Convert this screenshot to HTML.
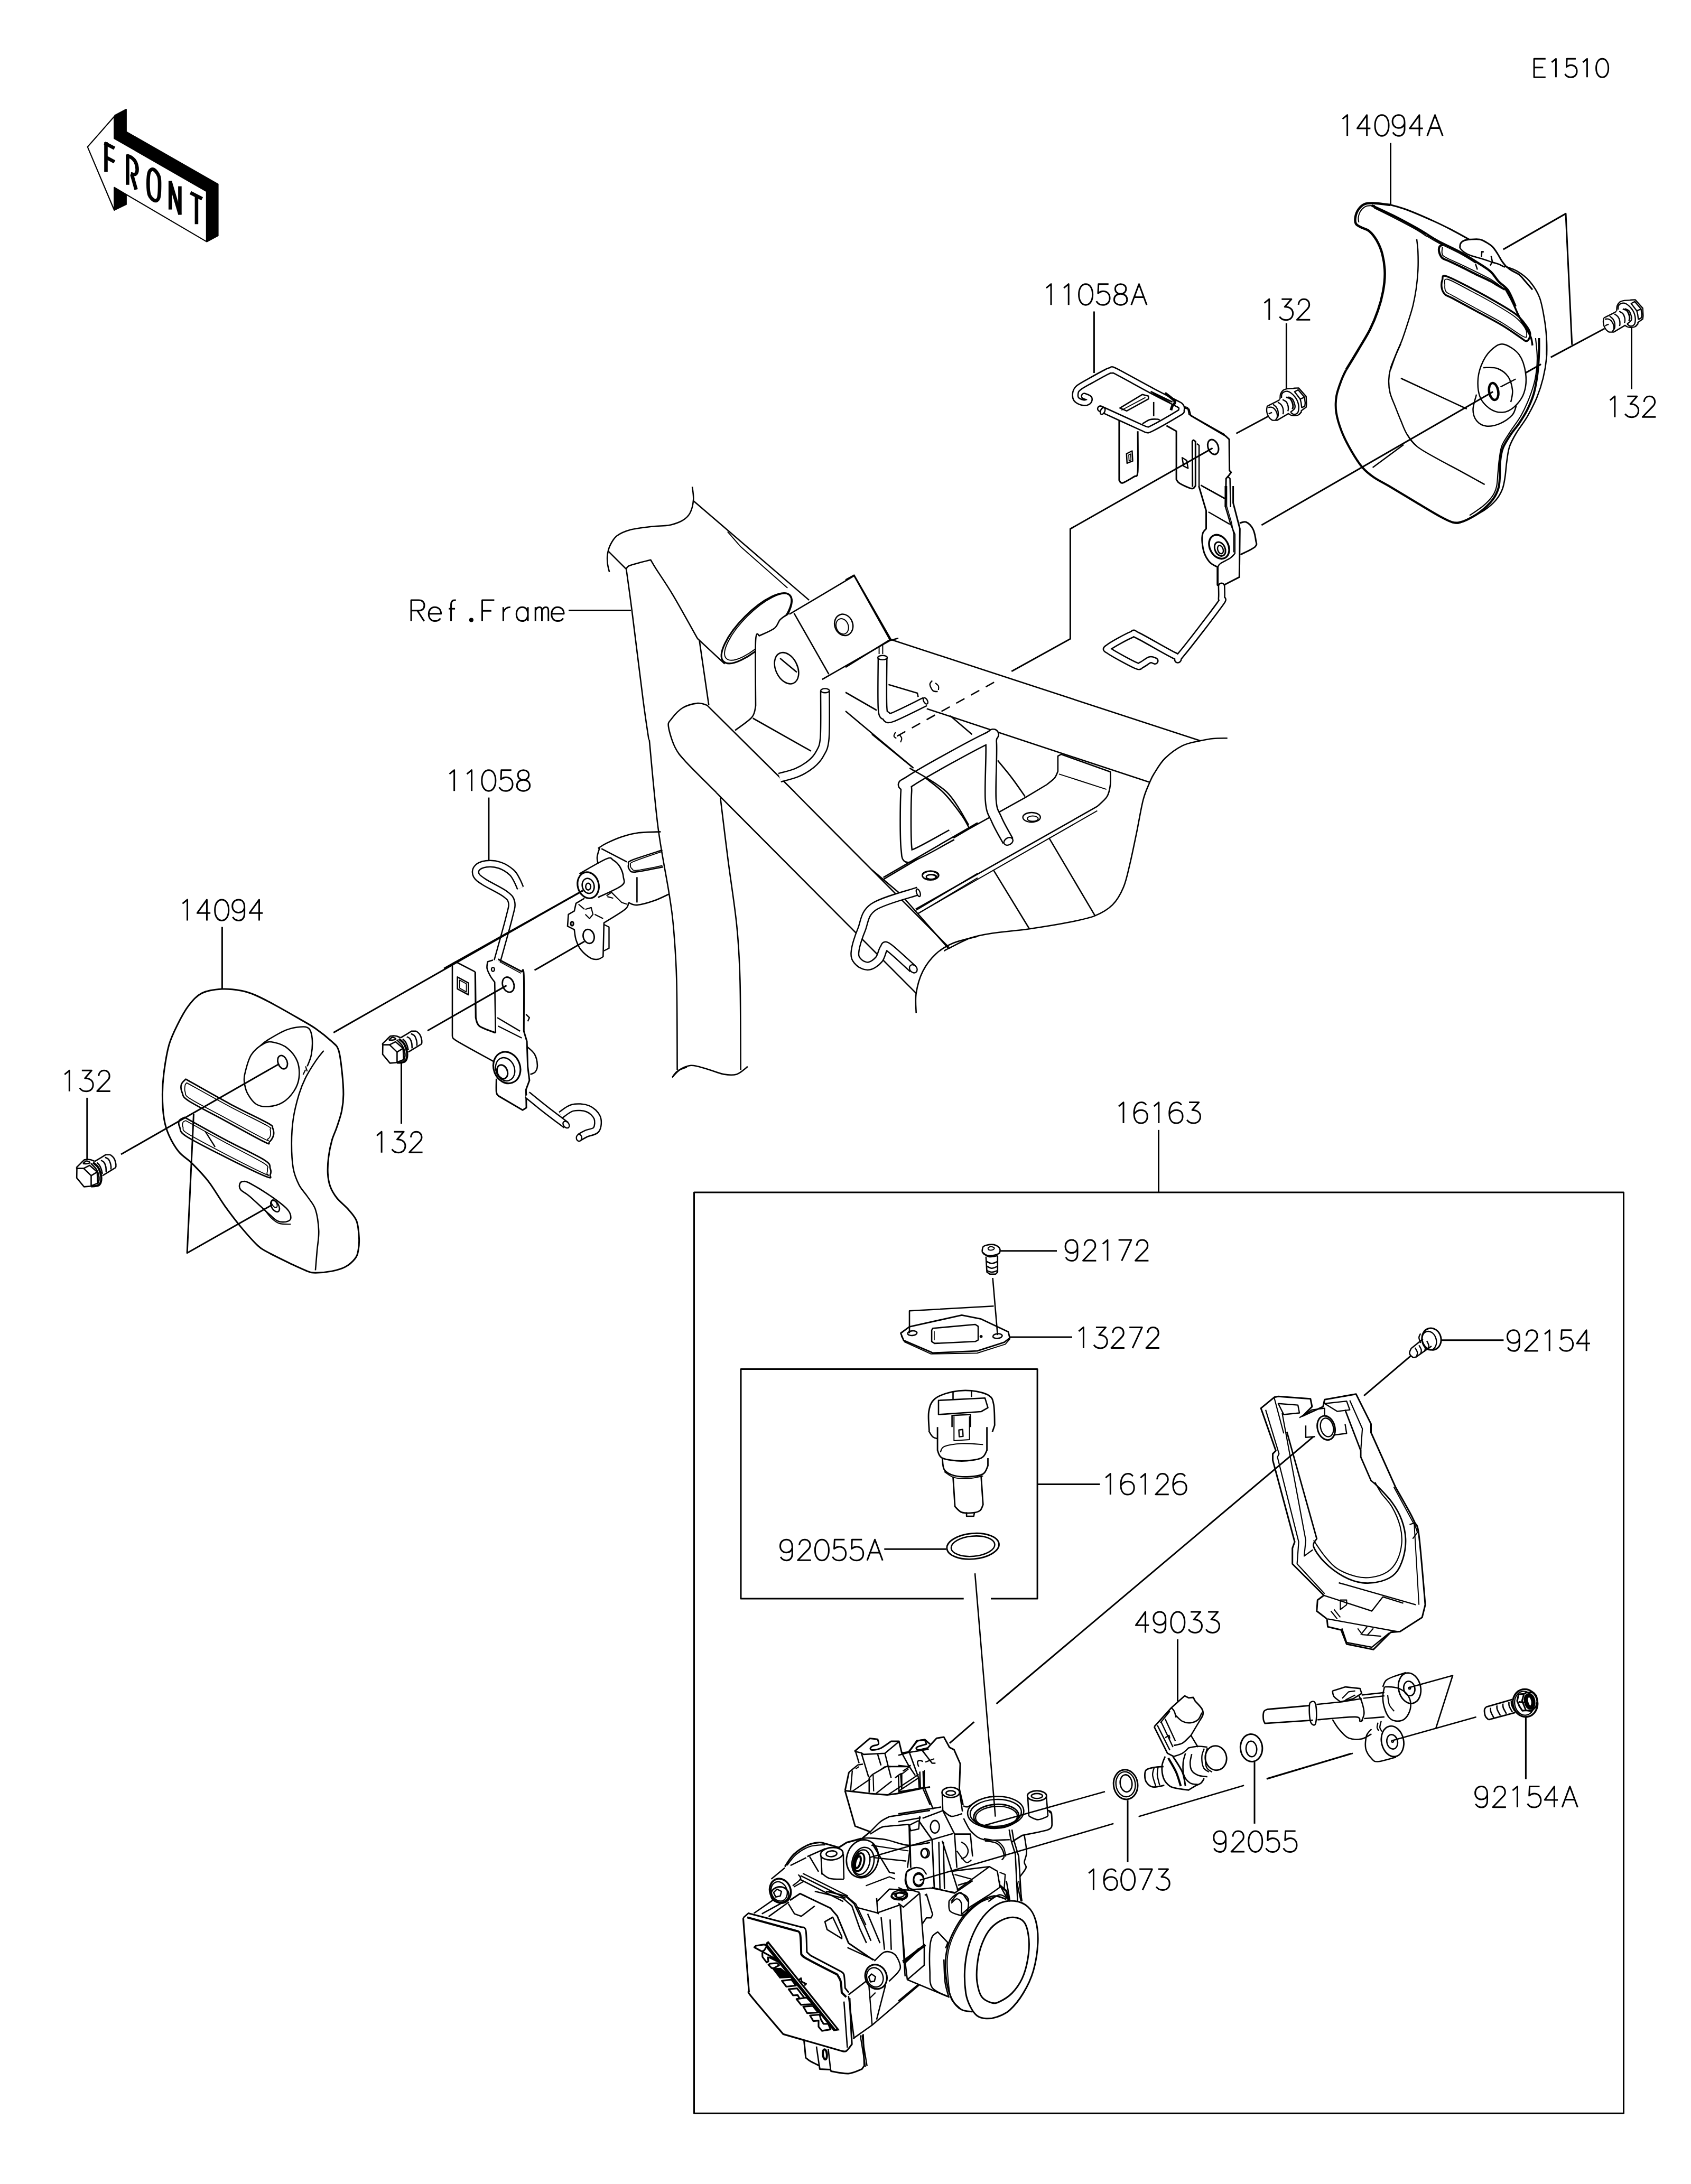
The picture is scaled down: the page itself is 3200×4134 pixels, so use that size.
<!DOCTYPE html>
<html><head><meta charset="utf-8"><title>Parts diagram</title><style>html,body{margin:0;padding:0;background:#fff;}body{width:3200px;height:4134px;overflow:hidden;font-family:"Liberation Sans",sans-serif;}svg{display:block;}</style></head>
<body>
<svg width="3200" height="4134" viewBox="0 0 3200 4134" stroke-linecap="butt" stroke-linejoin="round">
<rect width="3200" height="4134" fill="#fff"/>
<g fill="none" stroke="#000" stroke-width="8.6" stroke-linejoin="round"><path transform="translate(2902.4 111.3) scale(0.3500)" d="M64 0L2 0L2 100L64 100M2 47L51 47"/><path transform="translate(2931.8 111.3) scale(0.3500)" d="M13 19L36 0L36 100"/><path transform="translate(2961.3 111.3) scale(0.3500)" d="M59 0L11 0L9 44C16 38 24 34 33 34C52 34 65 47 65 67C65 87 52 100 33 100C18 100 7 94 1 82"/><path transform="translate(2990.8 111.3) scale(0.3500)" d="M13 19L36 0L36 100"/><path transform="translate(3020.2 111.3) scale(0.3500)" d="M34 0C53 0 67 19 67 50C67 81 53 100 34 100C15 100 1 81 1 50C1 19 15 0 34 0Z"/></g>
<g fill="none" stroke="#000" stroke-width="7.6" stroke-linejoin="round"><path transform="translate(2535.4 217.7) scale(0.3950)" d="M13 19L36 0L36 100"/><path transform="translate(2568.5 217.7) scale(0.3950)" d="M46 100L46 0L0 64L63 64"/><path transform="translate(2601.6 217.7) scale(0.3950)" d="M34 0C53 0 67 19 67 50C67 81 53 100 34 100C15 100 1 81 1 50C1 19 15 0 34 0Z"/><path transform="translate(2634.7 217.7) scale(0.3950)" d="M59 40C55 55 45 62 31 62C13 62 1 49 1 31C1 13 13 0 31 0C48 0 59 12 59 36L59 68C59 88 48 100 32 100C19 100 9 94 3 83"/><path transform="translate(2667.8 217.7) scale(0.3950)" d="M46 100L46 0L0 64L63 64"/><path transform="translate(2700.9 217.7) scale(0.3950)" d="M0 100L37 0L74 100M13 63L61 63"/></g>
<g fill="none" stroke="#000" stroke-width="7.6" stroke-linejoin="round"><path transform="translate(1974.8 537.7) scale(0.3950)" d="M13 19L36 0L36 100"/><path transform="translate(2008 537.7) scale(0.3950)" d="M13 19L36 0L36 100"/><path transform="translate(2041.2 537.7) scale(0.3950)" d="M34 0C53 0 67 19 67 50C67 81 53 100 34 100C15 100 1 81 1 50C1 19 15 0 34 0Z"/><path transform="translate(2074.4 537.7) scale(0.3950)" d="M59 0L11 0L9 44C16 38 24 34 33 34C52 34 65 47 65 67C65 87 52 100 33 100C18 100 7 94 1 82"/><path transform="translate(2107.6 537.7) scale(0.3950)" d="M33 47C17 47 7 37 7 23C7 9 18 0 33 0C48 0 59 9 59 23C59 37 49 47 33 47C15 47 2 58 2 74C2 90 15 100 33 100C51 100 64 90 64 74C64 58 51 47 33 47Z"/><path transform="translate(2140.8 537.7) scale(0.3950)" d="M0 100L37 0L74 100M13 63L61 63"/></g>
<g fill="none" stroke="#000" stroke-width="7.6" stroke-linejoin="round"><path transform="translate(2387.6 566.2) scale(0.3950)" d="M13 19L36 0L36 100"/><path transform="translate(2420.6 566.2) scale(0.3950)" d="M12 0L59 0L27 37C50 37 66 48 66 68C66 88 52 100 33 100C20 100 9 95 2 84"/><path transform="translate(2453.6 566.2) scale(0.3950)" d="M9 27C10 11 20 0 35 0C51 0 61 11 61 27C61 36 58 41 53 46L2 99L65 99"/></g>
<g fill="none" stroke="#000" stroke-width="7.6" stroke-linejoin="round"><path transform="translate(3041.6 750.2) scale(0.3950)" d="M13 19L36 0L36 100"/><path transform="translate(3074.6 750.2) scale(0.3950)" d="M12 0L59 0L27 37C50 37 66 48 66 68C66 88 52 100 33 100C20 100 9 95 2 84"/><path transform="translate(3107.6 750.2) scale(0.3950)" d="M9 27C10 11 20 0 35 0C51 0 61 11 61 27C61 36 58 41 53 46L2 99L65 99"/></g>
<circle cx="891.9" cy="1173.6" r="4.1" fill="#000"/>
<g fill="none" stroke="#000" stroke-width="7.6" stroke-linejoin="round"><path transform="translate(777.3 1136.1) scale(0.3950)" d="M2 100L2 0L38 0C56 0 65 10 65 25C65 40 56 50 38 50L2 50M32 50L64 100"/><path transform="translate(810.5 1136.1) scale(0.3950)" d="M2 65L61 65C61 45 49 33 31 33C13 33 2 48 2 67C2 87 14 100 31 100C44 100 53 95 58 87"/><path transform="translate(843.7 1136.1) scale(0.3950)" d="M48 0C42 0 36 0 32 3C27 7 25 12 25 20L25 100M14 41L44 41"/><path transform="translate(910.1 1136.1) scale(0.3950)" d="M64 0L6 0L6 100M6 51L50 51"/><path transform="translate(943.3 1136.1) scale(0.3950)" d="M23 33L23 100M23 58C28 42 40 33 57 33"/><path transform="translate(976.5 1136.1) scale(0.3950)" d="M57 33L57 100M57 66C57 46 46 33 30 33C13 33 2 47 2 67C2 87 13 100 30 100C46 100 57 87 57 66"/><path transform="translate(1009.7 1136.1) scale(0.3950)" d="M9 33L9 100M9 50C13 39 20 33 28 33C36 33 40 40 40 50L40 100M40 50C44 39 51 33 59 33C67 33 71 40 71 50L71 100"/><path transform="translate(1042.9 1136.1) scale(0.3950)" d="M2 65L61 65C61 45 49 33 31 33C13 33 2 48 2 67C2 87 14 100 31 100C44 100 53 95 58 87"/></g>
<g fill="none" stroke="#000" stroke-width="7.6" stroke-linejoin="round"><path transform="translate(845.4 1457.7) scale(0.3950)" d="M13 19L36 0L36 100"/><path transform="translate(878.4 1457.7) scale(0.3950)" d="M13 19L36 0L36 100"/><path transform="translate(911.4 1457.7) scale(0.3950)" d="M34 0C53 0 67 19 67 50C67 81 53 100 34 100C15 100 1 81 1 50C1 19 15 0 34 0Z"/><path transform="translate(944.4 1457.7) scale(0.3950)" d="M59 0L11 0L9 44C16 38 24 34 33 34C52 34 65 47 65 67C65 87 52 100 33 100C18 100 7 94 1 82"/><path transform="translate(977.4 1457.7) scale(0.3950)" d="M33 47C17 47 7 37 7 23C7 9 18 0 33 0C48 0 59 9 59 23C59 37 49 47 33 47C15 47 2 58 2 74C2 90 15 100 33 100C51 100 64 90 64 74C64 58 51 47 33 47Z"/></g>
<g fill="none" stroke="#000" stroke-width="7.6" stroke-linejoin="round"><path transform="translate(340.3 1702.9) scale(0.3950)" d="M13 19L36 0L36 100"/><path transform="translate(373.3 1702.9) scale(0.3950)" d="M46 100L46 0L0 64L63 64"/><path transform="translate(406.3 1702.9) scale(0.3950)" d="M34 0C53 0 67 19 67 50C67 81 53 100 34 100C15 100 1 81 1 50C1 19 15 0 34 0Z"/><path transform="translate(439.3 1702.9) scale(0.3950)" d="M59 40C55 55 45 62 31 62C13 62 1 49 1 31C1 13 13 0 31 0C48 0 59 12 59 36L59 68C59 88 48 100 32 100C19 100 9 94 3 83"/><path transform="translate(472.3 1702.9) scale(0.3950)" d="M46 100L46 0L0 64L63 64"/></g>
<g fill="none" stroke="#000" stroke-width="7.6" stroke-linejoin="round"><path transform="translate(117.1 2026.3) scale(0.3950)" d="M13 19L36 0L36 100"/><path transform="translate(150.1 2026.3) scale(0.3950)" d="M12 0L59 0L27 37C50 37 66 48 66 68C66 88 52 100 33 100C20 100 9 95 2 84"/><path transform="translate(183.1 2026.3) scale(0.3950)" d="M9 27C10 11 20 0 35 0C51 0 61 11 61 27C61 36 58 41 53 46L2 99L65 99"/></g>
<g fill="none" stroke="#000" stroke-width="7.6" stroke-linejoin="round"><path transform="translate(707.9 2142.2) scale(0.3950)" d="M13 19L36 0L36 100"/><path transform="translate(740.9 2142.2) scale(0.3950)" d="M12 0L59 0L27 37C50 37 66 48 66 68C66 88 52 100 33 100C20 100 9 95 2 84"/><path transform="translate(773.9 2142.2) scale(0.3950)" d="M9 27C10 11 20 0 35 0C51 0 61 11 61 27C61 36 58 41 53 46L2 99L65 99"/></g>
<g fill="none" stroke="#000" stroke-width="7.6" stroke-linejoin="round"><path transform="translate(2111.8 2086.6) scale(0.3950)" d="M13 19L36 0L36 100"/><path transform="translate(2145.2 2086.6) scale(0.3950)" d="M60 12C54 4 46 0 37 0C15 0 2 20 2 53C2 84 15 100 35 100C54 100 66 87 66 67C66 48 54 37 36 37C21 37 9 45 2 58"/><path transform="translate(2178.6 2086.6) scale(0.3950)" d="M13 19L36 0L36 100"/><path transform="translate(2212 2086.6) scale(0.3950)" d="M60 12C54 4 46 0 37 0C15 0 2 20 2 53C2 84 15 100 35 100C54 100 66 87 66 67C66 48 54 37 36 37C21 37 9 45 2 58"/><path transform="translate(2245.4 2086.6) scale(0.3950)" d="M12 0L59 0L27 37C50 37 66 48 66 68C66 88 52 100 33 100C20 100 9 95 2 84"/></g>
<g fill="none" stroke="#000" stroke-width="7.6" stroke-linejoin="round"><path transform="translate(2015.7 2347.1) scale(0.3950)" d="M59 40C55 55 45 62 31 62C13 62 1 49 1 31C1 13 13 0 31 0C48 0 59 12 59 36L59 68C59 88 48 100 32 100C19 100 9 94 3 83"/><path transform="translate(2048.7 2347.1) scale(0.3950)" d="M9 27C10 11 20 0 35 0C51 0 61 11 61 27C61 36 58 41 53 46L2 99L65 99"/><path transform="translate(2081.7 2347.1) scale(0.3950)" d="M13 19L36 0L36 100"/><path transform="translate(2114.7 2347.1) scale(0.3950)" d="M5 0L66 0L20 100"/><path transform="translate(2147.7 2347.1) scale(0.3950)" d="M9 27C10 11 20 0 35 0C51 0 61 11 61 27C61 36 58 41 53 46L2 99L65 99"/></g>
<g fill="none" stroke="#000" stroke-width="7.6" stroke-linejoin="round"><path transform="translate(2036.2 2512.4) scale(0.3950)" d="M13 19L36 0L36 100"/><path transform="translate(2069.2 2512.4) scale(0.3950)" d="M12 0L59 0L27 37C50 37 66 48 66 68C66 88 52 100 33 100C20 100 9 95 2 84"/><path transform="translate(2102.2 2512.4) scale(0.3950)" d="M9 27C10 11 20 0 35 0C51 0 61 11 61 27C61 36 58 41 53 46L2 99L65 99"/><path transform="translate(2135.2 2512.4) scale(0.3950)" d="M5 0L66 0L20 100"/><path transform="translate(2168.2 2512.4) scale(0.3950)" d="M9 27C10 11 20 0 35 0C51 0 61 11 61 27C61 36 58 41 53 46L2 99L65 99"/></g>
<g fill="none" stroke="#000" stroke-width="7.6" stroke-linejoin="round"><path transform="translate(2852 2517.8) scale(0.3950)" d="M59 40C55 55 45 62 31 62C13 62 1 49 1 31C1 13 13 0 31 0C48 0 59 12 59 36L59 68C59 88 48 100 32 100C19 100 9 94 3 83"/><path transform="translate(2885 2517.8) scale(0.3950)" d="M9 27C10 11 20 0 35 0C51 0 61 11 61 27C61 36 58 41 53 46L2 99L65 99"/><path transform="translate(2918 2517.8) scale(0.3950)" d="M13 19L36 0L36 100"/><path transform="translate(2951 2517.8) scale(0.3950)" d="M59 0L11 0L9 44C16 38 24 34 33 34C52 34 65 47 65 67C65 87 52 100 33 100C18 100 7 94 1 82"/><path transform="translate(2984 2517.8) scale(0.3950)" d="M46 100L46 0L0 64L63 64"/></g>
<g fill="none" stroke="#000" stroke-width="7.6" stroke-linejoin="round"><path transform="translate(2087.1 2789.6) scale(0.3950)" d="M13 19L36 0L36 100"/><path transform="translate(2120.1 2789.6) scale(0.3950)" d="M60 12C54 4 46 0 37 0C15 0 2 20 2 53C2 84 15 100 35 100C54 100 66 87 66 67C66 48 54 37 36 37C21 37 9 45 2 58"/><path transform="translate(2153.1 2789.6) scale(0.3950)" d="M13 19L36 0L36 100"/><path transform="translate(2186.1 2789.6) scale(0.3950)" d="M9 27C10 11 20 0 35 0C51 0 61 11 61 27C61 36 58 41 53 46L2 99L65 99"/><path transform="translate(2219.1 2789.6) scale(0.3950)" d="M60 12C54 4 46 0 37 0C15 0 2 20 2 53C2 84 15 100 35 100C54 100 66 87 66 67C66 48 54 37 36 37C21 37 9 45 2 58"/></g>
<g fill="none" stroke="#000" stroke-width="7.6" stroke-linejoin="round"><path transform="translate(1476 2914.2) scale(0.3950)" d="M59 40C55 55 45 62 31 62C13 62 1 49 1 31C1 13 13 0 31 0C48 0 59 12 59 36L59 68C59 88 48 100 32 100C19 100 9 94 3 83"/><path transform="translate(1509 2914.2) scale(0.3950)" d="M9 27C10 11 20 0 35 0C51 0 61 11 61 27C61 36 58 41 53 46L2 99L65 99"/><path transform="translate(1542 2914.2) scale(0.3950)" d="M34 0C53 0 67 19 67 50C67 81 53 100 34 100C15 100 1 81 1 50C1 19 15 0 34 0Z"/><path transform="translate(1575 2914.2) scale(0.3950)" d="M59 0L11 0L9 44C16 38 24 34 33 34C52 34 65 47 65 67C65 87 52 100 33 100C18 100 7 94 1 82"/><path transform="translate(1608 2914.2) scale(0.3950)" d="M59 0L11 0L9 44C16 38 24 34 33 34C52 34 65 47 65 67C65 87 52 100 33 100C18 100 7 94 1 82"/><path transform="translate(1641 2914.2) scale(0.3950)" d="M0 100L37 0L74 100M13 63L61 63"/></g>
<g fill="none" stroke="#000" stroke-width="7.6" stroke-linejoin="round"><path transform="translate(2149.4 3051) scale(0.3950)" d="M46 100L46 0L0 64L63 64"/><path transform="translate(2182.4 3051) scale(0.3950)" d="M59 40C55 55 45 62 31 62C13 62 1 49 1 31C1 13 13 0 31 0C48 0 59 12 59 36L59 68C59 88 48 100 32 100C19 100 9 94 3 83"/><path transform="translate(2215.4 3051) scale(0.3950)" d="M34 0C53 0 67 19 67 50C67 81 53 100 34 100C15 100 1 81 1 50C1 19 15 0 34 0Z"/><path transform="translate(2248.4 3051) scale(0.3950)" d="M12 0L59 0L27 37C50 37 66 48 66 68C66 88 52 100 33 100C20 100 9 95 2 84"/><path transform="translate(2281.4 3051) scale(0.3950)" d="M12 0L59 0L27 37C50 37 66 48 66 68C66 88 52 100 33 100C20 100 9 95 2 84"/></g>
<g fill="none" stroke="#000" stroke-width="7.6" stroke-linejoin="round"><path transform="translate(2791.2 3381.6) scale(0.3950)" d="M59 40C55 55 45 62 31 62C13 62 1 49 1 31C1 13 13 0 31 0C48 0 59 12 59 36L59 68C59 88 48 100 32 100C19 100 9 94 3 83"/><path transform="translate(2824.2 3381.6) scale(0.3950)" d="M9 27C10 11 20 0 35 0C51 0 61 11 61 27C61 36 58 41 53 46L2 99L65 99"/><path transform="translate(2857.2 3381.6) scale(0.3950)" d="M13 19L36 0L36 100"/><path transform="translate(2890.2 3381.6) scale(0.3950)" d="M59 0L11 0L9 44C16 38 24 34 33 34C52 34 65 47 65 67C65 87 52 100 33 100C18 100 7 94 1 82"/><path transform="translate(2923.2 3381.6) scale(0.3950)" d="M46 100L46 0L0 64L63 64"/><path transform="translate(2956.2 3381.6) scale(0.3950)" d="M0 100L37 0L74 100M13 63L61 63"/></g>
<g fill="none" stroke="#000" stroke-width="7.6" stroke-linejoin="round"><path transform="translate(2296.3 3466) scale(0.3950)" d="M59 40C55 55 45 62 31 62C13 62 1 49 1 31C1 13 13 0 31 0C48 0 59 12 59 36L59 68C59 88 48 100 32 100C19 100 9 94 3 83"/><path transform="translate(2329.3 3466) scale(0.3950)" d="M9 27C10 11 20 0 35 0C51 0 61 11 61 27C61 36 58 41 53 46L2 99L65 99"/><path transform="translate(2362.3 3466) scale(0.3950)" d="M34 0C53 0 67 19 67 50C67 81 53 100 34 100C15 100 1 81 1 50C1 19 15 0 34 0Z"/><path transform="translate(2395.3 3466) scale(0.3950)" d="M59 0L11 0L9 44C16 38 24 34 33 34C52 34 65 47 65 67C65 87 52 100 33 100C18 100 7 94 1 82"/><path transform="translate(2428.3 3466) scale(0.3950)" d="M59 0L11 0L9 44C16 38 24 34 33 34C52 34 65 47 65 67C65 87 52 100 33 100C18 100 7 94 1 82"/></g>
<g fill="none" stroke="#000" stroke-width="7.6" stroke-linejoin="round"><path transform="translate(2055.2 3538.1) scale(0.3950)" d="M13 19L36 0L36 100"/><path transform="translate(2088.2 3538.1) scale(0.3950)" d="M60 12C54 4 46 0 37 0C15 0 2 20 2 53C2 84 15 100 35 100C54 100 66 87 66 67C66 48 54 37 36 37C21 37 9 45 2 58"/><path transform="translate(2121.2 3538.1) scale(0.3950)" d="M34 0C53 0 67 19 67 50C67 81 53 100 34 100C15 100 1 81 1 50C1 19 15 0 34 0Z"/><path transform="translate(2154.2 3538.1) scale(0.3950)" d="M5 0L66 0L20 100"/><path transform="translate(2187.2 3538.1) scale(0.3950)" d="M12 0L59 0L27 37C50 37 66 48 66 68C66 88 52 100 33 100C20 100 9 95 2 84"/></g>
<path d="M216.2 220.6L216.2 217.8L237.8 206.2L239.9 206.2L239.9 248.8L413.6 348.1L413.6 446.7L391.8 458.6L390.9 457.4L390.9 362.2L216.2 262L216.2 220.6Z" fill="#000"/>
<path d="M216.2 354.8L239.9 368.8L239.9 387.4L216.2 399L216.2 354.8Z" fill="#000"/>
<path d="M165.7 278.1L216.2 220.6L216.2 262L390.9 362.2L390.9 457.4L216.2 354.8L216.2 397.8L165.7 278.1Z" stroke="#000" stroke-width="2.2" fill="#fff"/>
<path d="M200.5 269.1L200.5 325.4" stroke="#000" stroke-width="6.6" fill="none"/>
<path d="M198 270.8L216.7 280.7" stroke="#000" stroke-width="6.6" fill="none"/>
<path d="M200.5 297.6L216.7 306.4" stroke="#000" stroke-width="6.6" fill="none"/>
<path d="M241.4 292.3L241.4 349.8" stroke="#000" stroke-width="6.6" fill="none"/>
<path d="M239.4 294.6C240.8 295.1 244.9 295.8 247.7 297.6C250.5 299.5 254 302 256 305.9C258 309.8 259.6 316.8 259.6 320.8C259.6 324.8 258 328.5 256 329.9C254 331.3 249.1 329.2 247.7 329.1" stroke="#000" stroke-width="6.6" fill="none"/>
<path d="M249.3 329.9L257.6 358.9" stroke="#000" stroke-width="6.6" fill="none"/>
<path d="M290.7 320.8C293.8 322.2 298.8 328.3 300.7 334.1C302.6 339.9 302.1 348.7 302 355.6C301.9 362.5 301.5 371.5 299.9 375.5C298.3 379.5 295.3 380.7 292.4 379.6C289.5 378.5 284.5 374.2 282.5 368.8C280.5 363.4 280.3 354.5 280.3 347.3C280.3 340.1 280.7 330.2 282.5 325.8C284.2 321.4 287.7 319.4 290.7 320.8Z" stroke="#000" stroke-width="6.6" fill="none"/>
<path d="M322.2 342.3L322.2 396.6" stroke="#000" stroke-width="6.6" fill="none"/>
<path d="M322.2 344L340.4 405.3" stroke="#000" stroke-width="6.6" fill="none"/>
<path d="M340.4 352.6L340.4 406.6" stroke="#000" stroke-width="6.6" fill="none"/>
<path d="M360.3 364.7L382.6 376.3" stroke="#000" stroke-width="6.6" fill="none"/>
<path d="M371.9 370.5L371.9 424.3" stroke="#000" stroke-width="6.6" fill="none"/>
<path d="M1313.5 2257L3072.5 2257L3072.5 4000.3L1313.5 4000.3L1313.5 2257Z" stroke="#000" stroke-width="3" fill="none"/>
<path d="M2192.5 2138.8L2192.5 2257" stroke="#000" stroke-width="3" fill="none"/>
<path d="M3035.1 601.7C3035.8 601.3 3037.9 600.4 3039.5 599.6C3041.1 598.8 3042.8 598 3044.8 597C3046.9 595.9 3049.6 594.7 3051.9 593.4C3054.3 592.1 3057.8 590 3059 589.3" stroke="#000" stroke-width="2.4" fill="none"/>
<path d="M3044.2 628.6L3053.7 628.6L3075.6 615.6" stroke="#000" stroke-width="2.4" fill="none"/>
<path d="M3035.1 601.7C3034.9 602.9 3033.9 606.6 3034 609.1C3034 611.6 3034.3 614.3 3035.3 616.8C3036.2 619.3 3037.9 622.2 3039.5 624.2C3041.1 626.1 3044 627.9 3044.8 628.6" stroke="#000" stroke-width="2.4" fill="none"/>
<path d="M3037.1 604.1C3038.2 604 3041.6 603.2 3043.7 603.9C3045.7 604.5 3047.9 606 3049.6 607.9C3051.2 609.8 3052.7 612.5 3053.4 615C3054.2 617.5 3054.4 620.5 3054 622.7C3053.6 624.9 3051.3 627.1 3050.8 628" stroke="#000" stroke-width="2.4" fill="none"/>
<path d="M3037.7 616.8C3038.2 616.5 3039.6 615.5 3040.7 615C3041.8 614.5 3043.7 614 3044.2 613.8" stroke="#000" stroke-width="2.4" fill="none"/>
<path d="M3046 598.4C3047.1 599.3 3050.7 601.6 3052.2 603.8C3053.8 605.9 3054.9 608.9 3055.5 611.4C3056.1 614 3055.9 617.2 3055.8 619.1C3055.6 621.1 3054.8 622.6 3054.6 623.3" stroke="#000" stroke-width="2.4" fill="none"/>
<path d="M3055.2 594.3C3056.2 595.1 3059.8 597.1 3061.4 599C3063 601 3064.3 603.8 3064.9 606.1C3065.6 608.5 3065.5 611.4 3065.5 613.2C3065.5 615 3065 616.4 3064.9 617.1" stroke="#000" stroke-width="2.4" fill="none"/>
<path d="M3064.1 589.3C3065.2 590 3069.1 591.5 3070.9 593.4C3072.6 595.3 3073.7 598.5 3074.4 600.8C3075.1 603.1 3075 605.5 3075 607.3C3074.9 609.1 3074.3 610.8 3074.1 611.4" stroke="#000" stroke-width="2.4" fill="none"/>
<path d="M3070.9 584.8C3072.1 585.3 3076.6 586 3078.5 587.8C3080.5 589.6 3081.8 593 3082.7 595.5C3083.6 597.9 3083.9 600.6 3083.9 602.6C3083.9 604.5 3082.9 606.5 3082.7 607.3" stroke="#000" stroke-width="3" fill="none"/>
<path d="M3075 584.2C3076.3 584.9 3080.8 586.3 3082.7 588.4C3084.6 590.5 3085.7 594.2 3086.5 596.7C3087.4 599.1 3087.8 601.4 3087.7 603.2C3087.7 604.9 3087.7 605.6 3086.2 607.3C3084.8 609 3080.3 612.2 3079.1 613.2" stroke="#000" stroke-width="2.4" fill="none"/>
<path d="M3059.3 588.4C3059.5 586.8 3059.2 581.7 3060.2 578.9C3061.2 576.1 3063.4 573.2 3065.5 571.5C3067.7 569.9 3070.2 569.4 3073.2 568.9C3076.3 568.3 3082.1 568.4 3083.9 568.3" stroke="#000" stroke-width="2.4" fill="none"/>
<path d="M3075 615.6C3075.7 616.1 3077.5 617.9 3079.1 618.5C3080.8 619.2 3082.6 619.7 3085.1 619.7C3087.5 619.7 3091.6 619.6 3093.9 618.5C3096.3 617.5 3098.4 614.1 3099.2 613.2" stroke="#000" stroke-width="2.4" fill="none"/>
<path d="M3062 586C3062.1 584.8 3061.8 580.8 3062.7 578.9C3063.6 577 3065.5 575.5 3067.3 574.7C3069.1 573.8 3071.4 573.4 3073.5 573.7C3075.6 574 3077.5 575 3079.7 576.6C3081.9 578.2 3084.9 581 3086.8 583.4C3088.8 585.7 3090.3 588.1 3091.6 590.8C3092.8 593.4 3093.7 596.4 3094.2 599C3094.7 601.7 3094.8 604.4 3094.6 606.7C3094.5 609.1 3094.1 611.6 3093.3 613.2C3092.5 614.8 3091.3 615.8 3089.8 616.5C3088.3 617.1 3086.2 617.6 3084.5 617.1C3082.7 616.6 3080 614.1 3079.1 613.5" stroke="#000" stroke-width="2.4" fill="none"/>
<path d="M3083.9 568.3L3086.8 567.8L3094.5 567.4L3108.7 583.4L3109.4 597.8L3108.7 603.8L3099.5 610.4L3099.5 613.2L3094.5 618.5" stroke="#000" stroke-width="2.4" fill="none"/>
<path d="M3086.8 574.5L3093.6 570.9L3105.5 584.8L3097.5 588.4L3086.8 574.5Z" stroke="#000" stroke-width="2.4" fill="none"/>
<path d="M3097.5 588.4L3099.2 595.5L3100.4 604.9" stroke="#000" stroke-width="2.4" fill="none"/>
<path d="M3105.5 584.8L3106.9 595.5L3106.3 601.4L3100.4 604.9" stroke="#000" stroke-width="2.4" fill="none"/>
<path d="M2398.1 768.7C2398.8 768.3 2400.9 767.4 2402.5 766.6C2404.1 765.8 2405.8 765 2407.8 764C2409.9 762.9 2412.6 761.7 2414.9 760.4C2417.3 759.1 2420.8 757 2422 756.3" stroke="#000" stroke-width="2.4" fill="none"/>
<path d="M2407.2 795.6L2416.7 795.6L2438.6 782.6" stroke="#000" stroke-width="2.4" fill="none"/>
<path d="M2398.1 768.7C2397.9 769.9 2396.9 773.6 2397 776.1C2397 778.6 2397.3 781.3 2398.3 783.8C2399.2 786.3 2400.9 789.2 2402.5 791.2C2404.1 793.1 2407 794.9 2407.8 795.6" stroke="#000" stroke-width="2.4" fill="none"/>
<path d="M2400.1 771.1C2401.2 771 2404.6 770.2 2406.7 770.9C2408.7 771.5 2410.9 773 2412.6 774.9C2414.2 776.8 2415.7 779.5 2416.4 782C2417.2 784.5 2417.4 787.5 2417 789.7C2416.6 791.9 2414.3 794.1 2413.8 795" stroke="#000" stroke-width="2.4" fill="none"/>
<path d="M2400.7 783.8C2401.2 783.5 2402.6 782.5 2403.7 782C2404.8 781.5 2406.7 781 2407.2 780.8" stroke="#000" stroke-width="2.4" fill="none"/>
<path d="M2409 765.4C2410.1 766.3 2413.7 768.6 2415.2 770.8C2416.8 772.9 2417.9 775.9 2418.5 778.4C2419.1 781 2418.9 784.2 2418.8 786.1C2418.6 788.1 2417.8 789.6 2417.6 790.3" stroke="#000" stroke-width="2.4" fill="none"/>
<path d="M2418.2 761.3C2419.2 762.1 2422.8 764.1 2424.4 766C2426 768 2427.3 770.8 2427.9 773.1C2428.6 775.5 2428.5 778.4 2428.5 780.2C2428.5 782 2428 783.4 2427.9 784.1" stroke="#000" stroke-width="2.4" fill="none"/>
<path d="M2427.1 756.3C2428.2 757 2432.1 758.5 2433.9 760.4C2435.6 762.3 2436.7 765.5 2437.4 767.8C2438.1 770.1 2438 772.5 2438 774.3C2437.9 776.1 2437.3 777.8 2437.1 778.4" stroke="#000" stroke-width="2.4" fill="none"/>
<path d="M2433.9 751.8C2435.1 752.3 2439.6 753 2441.5 754.8C2443.5 756.6 2444.8 760 2445.7 762.5C2446.6 764.9 2446.9 767.6 2446.9 769.6C2446.9 771.5 2445.9 773.5 2445.7 774.3" stroke="#000" stroke-width="3" fill="none"/>
<path d="M2438 751.2C2439.3 751.9 2443.8 753.3 2445.7 755.4C2447.6 757.5 2448.7 761.2 2449.5 763.7C2450.4 766.1 2450.8 768.4 2450.7 770.2C2450.7 771.9 2450.7 772.6 2449.2 774.3C2447.8 776 2443.3 779.2 2442.1 780.2" stroke="#000" stroke-width="2.4" fill="none"/>
<path d="M2422.3 755.4C2422.5 753.8 2422.2 748.7 2423.2 745.9C2424.2 743.1 2426.4 740.2 2428.5 738.5C2430.7 736.9 2433.2 736.4 2436.2 735.9C2439.3 735.3 2445.1 735.4 2446.9 735.3" stroke="#000" stroke-width="2.4" fill="none"/>
<path d="M2438 782.6C2438.7 783.1 2440.5 784.9 2442.1 785.5C2443.8 786.2 2445.6 786.7 2448.1 786.7C2450.5 786.7 2454.6 786.6 2456.9 785.5C2459.3 784.5 2461.4 781.1 2462.2 780.2" stroke="#000" stroke-width="2.4" fill="none"/>
<path d="M2425 753C2425.1 751.8 2424.8 747.8 2425.7 745.9C2426.6 744 2428.5 742.5 2430.3 741.7C2432.1 740.8 2434.4 740.4 2436.5 740.7C2438.6 741 2440.5 742 2442.7 743.6C2444.9 745.2 2447.9 748 2449.8 750.4C2451.8 752.7 2453.3 755.1 2454.6 757.8C2455.8 760.4 2456.7 763.4 2457.2 766C2457.7 768.7 2457.8 771.4 2457.6 773.7C2457.5 776.1 2457.1 778.6 2456.3 780.2C2455.5 781.8 2454.3 782.8 2452.8 783.5C2451.3 784.1 2449.2 784.6 2447.5 784.1C2445.7 783.6 2443 781.1 2442.1 780.5" stroke="#000" stroke-width="2.4" fill="none"/>
<path d="M2446.9 735.3L2449.8 734.8L2457.5 734.4L2471.7 750.4L2472.4 764.8L2471.7 770.8L2462.5 777.4L2462.5 780.2L2457.5 785.5" stroke="#000" stroke-width="2.4" fill="none"/>
<path d="M2449.8 741.5L2456.6 737.9L2468.5 751.8L2460.5 755.4L2449.8 741.5Z" stroke="#000" stroke-width="2.4" fill="none"/>
<path d="M2460.5 755.4L2462.2 762.5L2463.4 771.9" stroke="#000" stroke-width="2.4" fill="none"/>
<path d="M2468.5 751.8L2469.9 762.5L2469.3 768.4L2463.4 771.9" stroke="#000" stroke-width="2.4" fill="none"/>
<path d="M145.5 2211.6L158.3 2211.6L172.5 2225.4L172.5 2245.3L159 2246.4L145.2 2229.7L145.5 2211.6Z" stroke="#000" stroke-width="2.6" fill="none"/>
<path d="M144.5 2210.2L153.4 2201.3L159.7 2195.3L166.1 2194.5L171.8 2195.3L179.3 2198.3" stroke="#000" stroke-width="2.6" fill="none"/>
<path d="M144.5 2210.2L145.5 2211.6" stroke="#000" stroke-width="2.6" fill="none"/>
<path d="M158.3 2211.6L169.7 2205.9L183.9 2218.3L172.5 2225.4" stroke="#000" stroke-width="2.6" fill="none"/>
<path d="M183.9 2218.3L184.9 2239.6L172.5 2244.6" stroke="#000" stroke-width="2.6" fill="none"/>
<path d="M156.9 2202.7C157.8 2201.9 160.9 2198.5 162.6 2197.7C164.2 2197 165.6 2197.6 166.8 2198.1C168.1 2198.6 170.5 2199.8 170 2200.6C169.6 2201.3 166.2 2202.4 164 2202.7C161.8 2203.1 158.1 2202.7 156.9 2202.7" stroke="#000" stroke-width="2.6" fill="none"/>
<path d="M171.8 2202C173.6 2203.9 180 2209.7 182.4 2213.4C184.9 2217 185.9 2220.6 186.7 2224C187.5 2227.4 187.8 2231 187.4 2233.9C187.1 2236.9 185.1 2240.4 184.6 2241.7" stroke="#000" stroke-width="2.6" fill="none"/>
<path d="M176.1 2200.6C177.6 2202 183 2205.9 185.3 2209.1C187.6 2212.3 188.8 2216.3 189.9 2219.7C191 2223.2 191.6 2226.5 191.7 2229.7C191.7 2232.9 191.3 2236.5 190.3 2238.9C189.2 2241.3 188.2 2243.1 185.3 2244.2C182.3 2245.3 174.6 2245.4 172.5 2245.6" stroke="#000" stroke-width="4.1" fill="none"/>
<path d="M179.6 2198.1L191 2191.4L200.2 2185.7L208.7 2185.7" stroke="#000" stroke-width="2.6" fill="none"/>
<path d="M208.7 2185.7C209.8 2186.6 213.4 2189 215.1 2191.4C216.7 2193.7 217.9 2197 218.6 2199.9C219.3 2202.7 219.6 2206.5 219.3 2208.4C219.1 2210.3 217.6 2210.8 217.2 2211.2" stroke="#000" stroke-width="2.6" fill="none"/>
<path d="M217.2 2211.2L193.8 2225.4" stroke="#000" stroke-width="2.6" fill="none"/>
<path d="M198.8 2190.6C199.8 2191.2 203.5 2192.4 205.2 2194.2C206.8 2196 207.9 2198.9 208.7 2201.3C209.5 2203.7 209.9 2206.4 210.1 2208.4C210.3 2210.4 209.8 2212.5 209.8 2213.4" stroke="#000" stroke-width="2.6" fill="none"/>
<path d="M191 2196.3C191.9 2196.9 195.1 2197.9 196.6 2199.9C198.2 2201.9 199.5 2205.3 200.2 2208.4C200.9 2211.5 200.8 2216.7 200.9 2218.3" stroke="#000" stroke-width="2.6" fill="none"/>
<path d="M183.2 2200.6C184 2201.4 186.7 2203.4 188.1 2205.5C189.5 2207.7 190.7 2210.6 191.7 2213.4C192.6 2216.1 193.4 2220.4 193.8 2221.9" stroke="#000" stroke-width="2.6" fill="none"/>
<path d="M724.4 1977.6L737.2 1977.6L751.4 1991.4L751.4 2011.3L737.9 2012.4L724.1 1995.7L724.4 1977.6Z" stroke="#000" stroke-width="2.6" fill="none"/>
<path d="M723.4 1976.2L732.3 1967.3L738.6 1961.3L745 1960.5L750.7 1961.3L758.2 1964.3" stroke="#000" stroke-width="2.6" fill="none"/>
<path d="M723.4 1976.2L724.4 1977.6" stroke="#000" stroke-width="2.6" fill="none"/>
<path d="M737.2 1977.6L748.6 1971.9L762.8 1984.3L751.4 1991.4" stroke="#000" stroke-width="2.6" fill="none"/>
<path d="M762.8 1984.3L763.8 2005.6L751.4 2010.6" stroke="#000" stroke-width="2.6" fill="none"/>
<path d="M735.8 1968.7C736.7 1967.9 739.8 1964.5 741.5 1963.7C743.1 1963 744.5 1963.6 745.7 1964.1C747 1964.6 749.4 1965.8 748.9 1966.6C748.5 1967.3 745.1 1968.4 742.9 1968.7C740.7 1969.1 737 1968.7 735.8 1968.7" stroke="#000" stroke-width="2.6" fill="none"/>
<path d="M750.7 1968C752.5 1969.9 758.9 1975.7 761.3 1979.4C763.8 1983 764.8 1986.6 765.6 1990C766.4 1993.4 766.7 1997 766.3 1999.9C766 2002.9 764 2006.4 763.5 2007.7" stroke="#000" stroke-width="2.6" fill="none"/>
<path d="M755 1966.6C756.5 1968 761.9 1971.9 764.2 1975.1C766.5 1978.3 767.7 1982.3 768.8 1985.7C769.9 1989.2 770.5 1992.5 770.6 1995.7C770.6 1998.9 770.2 2002.5 769.2 2004.9C768.1 2007.3 767.1 2009.1 764.2 2010.2C761.2 2011.3 753.5 2011.4 751.4 2011.6" stroke="#000" stroke-width="4.1" fill="none"/>
<path d="M758.5 1964.1L769.9 1957.4L779.1 1951.7L787.6 1951.7" stroke="#000" stroke-width="2.6" fill="none"/>
<path d="M787.6 1951.7C788.7 1952.6 792.3 1955 794 1957.4C795.6 1959.7 796.8 1963 797.5 1965.9C798.2 1968.7 798.5 1972.5 798.2 1974.4C798 1976.3 796.5 1976.8 796.1 1977.2" stroke="#000" stroke-width="2.6" fill="none"/>
<path d="M796.1 1977.2L772.7 1991.4" stroke="#000" stroke-width="2.6" fill="none"/>
<path d="M777.7 1956.6C778.7 1957.2 782.4 1958.4 784.1 1960.2C785.7 1962 786.8 1964.9 787.6 1967.3C788.4 1969.7 788.8 1972.4 789 1974.4C789.2 1976.4 788.7 1978.5 788.7 1979.4" stroke="#000" stroke-width="2.6" fill="none"/>
<path d="M769.9 1962.3C770.8 1962.9 774 1963.9 775.5 1965.9C777.1 1967.9 778.4 1971.3 779.1 1974.4C779.8 1977.5 779.7 1982.7 779.8 1984.3" stroke="#000" stroke-width="2.6" fill="none"/>
<path d="M762.1 1966.6C762.9 1967.4 765.6 1969.4 767 1971.5C768.4 1973.7 769.6 1976.6 770.6 1979.4C771.5 1982.1 772.3 1986.4 772.7 1987.9" stroke="#000" stroke-width="2.6" fill="none"/>
<path d="M2434.4 612L2434.4 736" stroke="#000" stroke-width="3" fill="none"/>
<path d="M3087.5 619.8L3087.5 736.6" stroke="#000" stroke-width="3" fill="none"/>
<path d="M164.8 2077.9L164.8 2195" stroke="#000" stroke-width="3" fill="none"/>
<path d="M759.5 2011L759.5 2127" stroke="#000" stroke-width="3" fill="none"/>
<path d="M2631.5 270.6L2631.5 388" stroke="#000" stroke-width="3" fill="none"/>
<path d="M2631.3 388C2626.4 387.4 2609.8 385 2601.7 384.7C2593.6 384.4 2587.9 384.2 2582.8 386.1C2577.7 388 2573.9 392 2571 396C2568 400 2565.9 405.7 2565.1 410.2C2564.2 414.7 2564 419.9 2565.8 423.2C2567.5 426.6 2571.5 428 2575.7 430.3C2579.9 432.7 2586.1 433.3 2591.1 437.4C2596 441.6 2601.1 447.9 2605.3 455.2C2609.4 462.5 2613.3 470.9 2615.9 481.2C2618.5 491.4 2620.4 504.8 2620.6 516.7C2620.8 528.5 2619.3 540.3 2617.1 552.1C2614.9 564 2611.8 575.6 2607.6 587.6C2603.5 599.6 2598.4 612.1 2592.3 624.3C2586.1 636.5 2578.5 648.3 2571 661C2563.5 673.6 2551.3 693.5 2547.3 700" stroke="#000" stroke-width="4.5" fill="none"/>
<path d="M2547.4 700.1C2546 703.1 2542.1 709.9 2539 718.1C2536 726.3 2530.9 738.9 2529.1 749.3C2527.4 759.7 2527 769.2 2528.6 780.5C2530.3 791.8 2534.3 804.8 2539 816.9C2543.8 829.1 2550.7 842.1 2557.2 853.4C2563.7 864.6 2571.1 876.3 2578.1 884.6C2585 892.8 2590.2 896.7 2598.9 902.8C2607.5 908.9 2616.2 912.8 2630.1 921C2644 929.3 2666.1 942.7 2682.1 952.2C2698.2 961.8 2715.5 972.3 2726.4 978.3C2737.2 984.2 2741.6 986.3 2747.2 988.1C2752.8 990 2755.4 989.9 2760.2 989.2C2765 988.5 2768.9 987.5 2775.8 984C2782.8 980.5 2793.6 974.9 2801.8 968.4C2810.1 961.9 2819.6 952.4 2825.3 945C2830.9 937.5 2833.5 931.1 2835.7 923.6C2837.8 916.2 2837.7 908.4 2838.3 900.2C2838.8 892 2837.8 882.9 2838.8 874.2C2839.7 865.5 2840.6 856.8 2844 848.2C2847.4 839.5 2854 829.9 2859.1 822.1C2864.2 814.3 2869.5 809.1 2874.7 801.3C2879.9 793.5 2885.6 784.8 2890.3 775.3C2895 765.8 2899.5 755.8 2902.8 744.1C2906 732.4 2908.2 718.1 2909.8 705.1C2911.4 692 2912 676.9 2912.4 666C2912.9 655.2 2912.4 644.3 2912.4 640" stroke="#000" stroke-width="4" fill="none"/>
<path d="M2601.7 388.9C2599 389.2 2590 388.7 2585.6 390.3C2581.2 392 2577.7 395.3 2575.2 398.9C2572.7 402.4 2571.1 407.7 2570.5 411.4C2569.9 415.1 2571.3 419.3 2571.4 420.9" stroke="#000" stroke-width="2" fill="none"/>
<path d="M2926.7 640C2926.7 646.1 2927.8 663.9 2926.7 676.4C2925.6 689 2923.3 702.9 2920.2 715.5C2917.2 728 2913.5 739.7 2908.5 751.9C2903.5 764 2896.8 777 2890.3 788.3C2883.8 799.6 2875.1 810 2869.5 819.5C2863.8 829.1 2859.5 836.5 2856.5 845.6C2853.4 854.7 2852.7 864.6 2851.3 874.2C2849.9 883.7 2849.5 894.1 2848.1 902.8C2846.8 911.5 2845.9 918.8 2842.9 926.2C2840 933.6 2836 940.5 2830.5 947C2824.9 953.5 2817.9 959.6 2809.6 965.3C2801.4 970.9 2789.3 976.7 2781 980.9C2772.8 985 2765.8 988.9 2760.2 990.2C2754.6 991.5 2749.4 988.9 2747.2 988.7" stroke="#000" stroke-width="2.6" fill="none"/>
<path d="M2905.9 640C2906.4 646.5 2909.2 666 2909 679C2908.9 692 2907.3 705.9 2904.9 718.1C2902.4 730.2 2898.8 740.6 2894.5 751.9C2890.1 763.2 2884.9 774.9 2878.9 785.7C2872.8 796.6 2864.1 807.4 2858 816.9C2852 826.5 2845.9 834.3 2842.4 843C2839 851.6 2838.5 860.3 2837.2 869C2835.9 877.7 2835.5 886.3 2834.6 895C2833.8 903.7 2833.8 913.6 2832 921C2830.3 928.4 2828.4 933.2 2824.2 939.2C2820 945.3 2814.2 951.4 2807 957.4C2799.8 963.5 2785.4 972.6 2781 975.7" stroke="#000" stroke-width="2.2" fill="none"/>
<path d="M2847.1 503.8C2851 505.3 2862.8 508.5 2870.7 513.2C2878.6 517.9 2887.3 523.9 2894.4 532.1C2901.5 540.4 2908.6 550.7 2913.3 562.9C2918 575.1 2920.6 592.6 2922.8 605.5C2925 618.3 2925.9 629 2926.6 640C2927.2 651 2926.6 666.4 2926.6 671.7" stroke="#000" stroke-width="2.6" fill="none"/>
<path d="M2847.7 545C2850.1 549.4 2857.8 562.8 2861.9 571.1C2866.1 579.3 2869.4 588.2 2872.6 594.7C2875.7 601.2 2877.9 605 2880.8 610.1C2883.8 615.2 2887.5 620.5 2890.3 625.5C2893.1 630.4 2895.8 634.9 2897.4 639.7C2899 644.4 2899.6 651.5 2900 653.9" stroke="#000" stroke-width="3.5" fill="none"/>
<path d="M2631.3 387.7C2636.2 389.2 2647.3 391.4 2660.9 396.5C2674.5 401.6 2698.3 411.9 2712.9 418.5C2727.5 425 2737.1 430 2748.4 435.8C2759.6 441.6 2775 450.3 2780.3 453.3" stroke="#000" stroke-width="3" fill="none"/>
<path d="M2595.8 388.9C2602.6 392.2 2622.8 401.3 2636.7 408.3C2650.6 415.3 2668.8 425.2 2679.3 431C2689.8 436.9 2696.5 441.3 2699.9 443.3" stroke="#000" stroke-width="4.5" fill="none"/>
<path d="M2600.5 393.7C2607 396.9 2626 406 2639.6 413.1C2653.2 420.1 2672.1 430 2682.1 435.8C2692.2 441.5 2696.9 445.6 2699.9 447.6" stroke="#000" stroke-width="2" fill="none"/>
<path d="M2700 443.4C2703.6 445.6 2711.1 450.9 2721.9 456.6C2732.6 462.4 2752.6 471.5 2764.5 477.9C2776.3 484.3 2783.6 489.1 2792.8 495.1C2802.1 501 2812.9 507.1 2820 513.4C2827.2 519.7 2830.4 526.9 2836 532.9C2841.6 538.9 2848.4 541.6 2853.8 549.5C2859.1 557.3 2865.6 574.9 2867.9 580" stroke="#000" stroke-width="4.2" fill="none"/>
<path d="M2700 446.9C2703.6 449.1 2711.1 454.1 2721.9 459.8C2732.6 465.5 2752.6 474.5 2764.5 480.9C2776.3 487.2 2788.1 495.1 2792.8 498" stroke="#000" stroke-width="1.8" fill="none"/>
<path d="M2730.4 463.7C2729.4 464.2 2725.4 464.5 2724.2 466.7C2723.1 468.8 2722.5 472.9 2723.3 476.5C2724.1 480 2726.1 485.1 2729 488C2731.8 490.8 2734.5 490.7 2740.4 493.5C2746.4 496.3 2755.7 500.6 2764.5 504.9C2773.2 509.1 2783.6 514.5 2792.8 519.1C2802.1 523.6 2813.2 528.5 2820 532C2826.8 535.4 2829 537.3 2833.6 540C2838.3 542.7 2845.5 546.9 2847.8 548.3" stroke="#000" stroke-width="4" fill="none"/>
<path d="M2729.6 467.8C2729.5 469.8 2728 476.5 2729 479.7C2730 482.9 2728.5 483 2735.5 487C2742.5 491 2757.2 496.9 2771 503.6C2784.8 510.3 2806.4 520.6 2818.3 527.2C2830.1 533.9 2838 540.8 2841.9 543.5" stroke="#000" stroke-width="2" fill="none"/>
<path d="M2792.3 499.8L2795.8 510.4" stroke="#000" stroke-width="2.5" fill="none"/>
<path d="M2762.7 469.6C2762.9 468.2 2762.5 463.4 2763.9 461C2765.2 458.6 2767.8 456.4 2771 455.1C2774.1 453.8 2777.9 453.5 2782.8 453.2C2787.7 452.9 2795.6 452.3 2800.5 453.2C2805.5 454.1 2808.4 456.3 2812.4 458.6C2816.3 460.9 2820.6 463.4 2824.2 466.9C2827.7 470.4 2830.7 475.2 2833.6 479.7C2836.6 484.2 2839.3 489.9 2841.9 493.9C2844.5 497.8 2848 501.9 2849.3 503.6" stroke="#000" stroke-width="3" fill="none"/>
<path d="M2762.7 469.6C2764.1 470.9 2767.6 475.2 2771 477.5C2774.3 479.9 2776.9 481.3 2782.8 483.5C2788.7 485.6 2799.5 488.4 2806.4 490.6C2813.3 492.7 2819.3 494.9 2824.2 496.5C2829.1 498 2832.1 498.4 2836 500C2840 501.6 2845.9 504.9 2847.8 505.9" stroke="#000" stroke-width="2.6" fill="none"/>
<path d="M2803.5 486.8L2804.1 476.4L2807.9 476.8" stroke="#000" stroke-width="2.6" fill="none"/>
<path d="M2821.8 484.4L2824.2 496.2L2819.7 502.4" stroke="#000" stroke-width="2.6" fill="none"/>
<path d="M2849.3 503.6C2851 504.9 2855.4 508.8 2859.7 511.6C2864 514.4 2870.5 516.5 2875 520.1C2879.6 523.7 2882.7 528.4 2886.9 533.1C2891 537.8 2897.8 545.8 2900 548.3" stroke="#000" stroke-width="3" fill="none"/>
<path d="M2736.5 522.6C2745.6 525.2 2768.1 537.4 2783.9 545.5C2799.6 553.7 2817 563.3 2831.2 571.5C2845.4 579.8 2859.6 587.8 2869 595.2C2878.5 602.6 2883.5 610.2 2887.9 616C2892.4 621.8 2894.6 625.9 2895.5 630.2C2896.4 634.5 2894.5 639.5 2893.1 642C2891.8 644.6 2889.9 646 2887.5 645.6C2885 645.2 2885.9 644.6 2878.5 639.7C2871.1 634.7 2856.8 624.3 2843 616C2829.2 607.7 2811.5 598.6 2795.7 590C2779.9 581.4 2758.6 570 2748.4 564.4C2738.1 558.9 2737.5 560.1 2734.2 556.9C2730.8 553.6 2729.1 549.6 2728.3 545C2727.5 540.5 2728.1 533.4 2729.5 529.7C2730.8 525.9 2727.5 519.9 2736.5 522.6Z" stroke="#000" stroke-width="3.5" fill="none"/>
<path d="M2738.9 528.5C2747.2 530.3 2768.5 542.9 2783.9 551C2799.2 559 2817.4 568.9 2831.2 577C2845 585.1 2857.8 592.6 2866.6 599.5C2875.5 606.3 2880.6 612.9 2884.4 618.4C2888.1 623.9 2889.3 629.4 2889.1 632.6C2888.9 635.7 2890.9 640.8 2883.2 637.3C2875.5 633.7 2857.6 620 2843 611.3C2828.4 602.6 2811.5 593.9 2795.7 585.3C2779.9 576.6 2758.2 564.8 2748.4 559.2C2738.5 553.7 2738.9 555.3 2736.5 552.1C2734.2 549 2733.8 544.3 2734.2 540.3C2734.6 536.4 2730.6 526.7 2738.9 528.5Z" stroke="#000" stroke-width="1.8" fill="none"/>
<path d="M2681 452.8C2681.4 456.7 2682.9 466.6 2683.3 476.4C2683.7 486.3 2683.9 500.1 2683.3 511.9C2682.7 523.8 2681.4 536.4 2679.8 547.4C2678.2 558.4 2676.2 568.3 2673.9 578.2C2671.5 588 2668.9 595.9 2665.6 606.5C2662.2 617.2 2657.7 631.4 2653.8 642C2649.8 652.7 2645.7 660.8 2641.9 670.4C2638.2 680.1 2633.1 695.1 2631.3 700" stroke="#000" stroke-width="2.5" fill="none"/>
<path d="M2650.9 650.4C2649.2 654.3 2643.8 666 2640.5 673.8C2637.3 681.6 2633.5 689.4 2631.4 697.2C2629.3 705.1 2628.1 712.9 2628 720.7C2627.9 728.5 2628.5 735.8 2630.6 744.1C2632.7 752.3 2637.1 761.4 2640.5 770.1C2643.9 778.8 2647.2 787.4 2650.9 796.1C2654.6 804.8 2657.4 813.9 2662.6 822.1C2667.8 830.4 2672.4 837.8 2682.1 845.6C2691.9 853.4 2708.2 861.6 2721.2 869C2734.2 876.3 2745.5 881.8 2760.2 889.8C2774.9 897.8 2801.4 912.6 2809.6 917.1" stroke="#000" stroke-width="2.5" fill="none"/>
<path d="M2650.9 716L2775.8 774" stroke="#000" stroke-width="2.5" fill="none"/>
<path d="M2597.6 885.1L2656.1 841.7" stroke="#000" stroke-width="2.5" fill="none"/>
<path d="M2846.1 651.7C2854.3 653.7 2867.8 661.9 2874.7 671.2C2881.5 680.5 2885.7 695.5 2887.2 707.7C2888.7 719.8 2887.4 733.7 2883.8 744.1C2880.2 754.5 2872.3 764 2865.6 770.1C2858.9 776.2 2851.3 780 2843.5 780.5C2835.7 781 2825.9 778.2 2818.7 773.2C2811.6 768.2 2804.1 760.2 2800.5 750.6C2796.9 741 2796.1 726.7 2797.1 715.5C2798.2 704.2 2802.4 692.3 2807 682.9C2811.7 673.6 2818.7 664.7 2825.3 659.5C2831.8 654.3 2837.8 649.8 2846.1 651.7Z" stroke="#000" stroke-width="2.5" fill="none"/>
<path d="M2794 746.7C2792.9 751.5 2787.5 767.1 2787.5 775.3C2787.5 783.5 2789.9 790.9 2794 796.1C2798.1 801.3 2804.9 805.6 2812.2 806.5C2819.6 807.5 2830 805.3 2838.3 801.8C2846.5 798.4 2856.5 791.4 2861.7 785.7C2866.9 780 2868.2 770.5 2869.5 767.5" stroke="#000" stroke-width="2.5" fill="none"/>
<path d="M2807 695.9C2811.4 696.2 2825.3 694.4 2833.1 697.2C2840.9 700.1 2849 705.9 2853.9 712.9C2858.7 719.8 2861.3 730.9 2862.2 738.9C2863.1 746.9 2859.6 757.3 2859.1 761" stroke="#000" stroke-width="2.5" fill="none"/>
<ellipse cx="2826.6" cy="741" rx="8.6" ry="16.1" transform="rotate(-10 2826.6 741)" stroke="#000" stroke-width="4.5" fill="none"/>
<path d="M2825.3 741.5L2387.3 994" stroke="#000" stroke-width="3" fill="none"/>
<path d="M2839.6 732.4L2868.2 717.5" stroke="#000" stroke-width="2.5" fill="none"/>
<path d="M2887.7 705.1L2916.3 689.4" stroke="#000" stroke-width="2.5" fill="none"/>
<path d="M3036.3 622L2934.6 676.4" stroke="#000" stroke-width="3" fill="none"/>
<path d="M2915.7 689.7L2887.3 705.8" stroke="#000" stroke-width="3" fill="none"/>
<path d="M2844.7 472.1L2963 404.4L2974.8 652.8" stroke="#000" stroke-width="3" fill="none"/>
<path d="M2070.4 589.5L2070.4 706" stroke="#000" stroke-width="3" fill="none"/>
<path d="M2241.4 771.5L2249.9 774.7L2253.1 786.4L2319.1 825.2L2326.1 831.6L2326.6 890.8L2329.8 894L2324.4 901.4L2320.2 905.7L2319.1 960" stroke="#000" stroke-width="3" fill="none"/>
<path d="M2240.3 769.4L2247.4 771.1L2249.9 784.3L2318 822.6" stroke="#000" stroke-width="2" fill="none"/>
<path d="M2322.3 901.4L2327.6 905.7L2328.7 960" stroke="#000" stroke-width="2.5" fill="none"/>
<path d="M2117.9 795L2117.9 908.9C2119 909.7 2119.3 915.4 2124.3 914.2C2129.3 912.9 2143.8 903.5 2147.7 901.4C2148.6 899.8 2152.2 906 2153.1 891.8C2153.9 877.6 2153.1 828.8 2153.1 816.3" stroke="#000" stroke-width="3" fill="none"/>
<path d="M2131.8 858.8L2142.4 853.5L2143.5 872.7L2132.8 876.9L2131.8 858.8Z" stroke="#000" stroke-width="2.5" fill="none"/>
<path d="M2136 861L2139.6 859.3L2140.3 870.5L2136.7 872.7L2136 861Z" stroke="#000" stroke-width="1.8" fill="none"/>
<path d="M2207.3 805.6L2226.1 816.3L2226.1 907.8C2227.2 909 2228 912.4 2232.9 915.2C2237.8 918.1 2250.3 924.1 2255.2 924.8C2260.1 925.5 2261.1 920.4 2262.3 919.5L2262.3 835.8C2261.6 835.3 2259.4 832.9 2258.4 832.9C2257.4 832.8 2256.7 835 2256.3 835.4L2256.7 921.6" stroke="#000" stroke-width="3" fill="none"/>
<path d="M2264.8 839.7L2269.1 842.9L2269.1 920.6" stroke="#000" stroke-width="2.5" fill="none"/>
<path d="M2237.1 866.3L2245.7 871.6L2248.2 886.5L2239.7 882.2L2237.1 866.3Z" stroke="#000" stroke-width="2.5" fill="none"/>
<ellipse cx="2295.7" cy="846.1" rx="9.6" ry="14.5" transform="rotate(-20 2295.7 846.1)" stroke="#000" stroke-width="3" fill="none"/>
<path d="M2051.9 749.8C2053.4 750.5 2059.6 752.1 2060.9 753.8C2062.1 755.5 2061.4 758.8 2059.5 760.2C2057.5 761.6 2052.9 762.8 2049.1 762C2045.3 761.3 2039 758.7 2036.7 755.5C2034.5 752.4 2034.6 746.8 2035.3 743.2C2036.1 739.6 2036.7 737.6 2041.3 733.9C2045.8 730.3 2053.6 726.2 2062.6 721.2C2071.6 716.1 2088.4 706.8 2095.2 703.4C2102.1 700.1 2100.9 701.1 2103.7 701C2106.6 700.9 2099.5 696.5 2112.3 703C2125 709.5 2161.7 730 2180.4 739.9C2199.1 749.8 2215.3 757.8 2224.4 762.6C2233.4 767.4 2232.7 766.3 2234.6 768.7C2236.4 771.1 2236.3 774.5 2235.4 776.8C2234.6 779.1 2239.2 776.7 2229.8 782.5C2220.4 788.2 2189.1 806.2 2179 811.3C2168.8 816.3 2172.1 813 2169 812.7C2165.9 812.4 2174.9 815.9 2160.5 809.4C2146.1 802.9 2095.5 779.6 2082.4 773.7" fill="none" stroke="#000" stroke-width="13" stroke-linecap="round" stroke-linejoin="round"/>
<path d="M2051.9 749.8C2053.4 750.5 2059.6 752.1 2060.9 753.8C2062.1 755.5 2061.4 758.8 2059.5 760.2C2057.5 761.6 2052.9 762.8 2049.1 762C2045.3 761.3 2039 758.7 2036.7 755.5C2034.5 752.4 2034.6 746.8 2035.3 743.2C2036.1 739.6 2036.7 737.6 2041.3 733.9C2045.8 730.3 2053.6 726.2 2062.6 721.2C2071.6 716.1 2088.4 706.8 2095.2 703.4C2102.1 700.1 2100.9 701.1 2103.7 701C2106.6 700.9 2099.5 696.5 2112.3 703C2125 709.5 2161.7 730 2180.4 739.9C2199.1 749.8 2215.3 757.8 2224.4 762.6C2233.4 767.4 2232.7 766.3 2234.6 768.7C2236.4 771.1 2236.3 774.5 2235.4 776.8C2234.6 779.1 2239.2 776.7 2229.8 782.5C2220.4 788.2 2189.1 806.2 2179 811.3C2168.8 816.3 2172.1 813 2169 812.7C2165.9 812.4 2174.9 815.9 2160.5 809.4C2146.1 802.9 2095.5 779.6 2082.4 773.7" fill="none" stroke="#fff" stroke-width="7.8" stroke-linecap="round" stroke-linejoin="round"/>
<ellipse cx="2086.7" cy="777.9" rx="4" ry="6.8" transform="rotate(25 2086.7 777.9)" stroke="#000" stroke-width="2.6" fill="#fff"/>
<path d="M2081 768L2091 772.3" stroke="#000" stroke-width="2.4" fill="none"/>
<path d="M2119.3 772.3L2161.9 746.7L2173.3 749.8L2173.3 755.2L2132.1 777.9L2119.3 772.3Z" stroke="#000" stroke-width="2.6" fill="none"/>
<path d="M2122.2 776.5L2167.6 752.4" stroke="#000" stroke-width="1.8" fill="none"/>
<path d="M2177.5 741L2218.7 760.9" stroke="#000" stroke-width="2.8" fill="none"/>
<path d="M2181.8 744.6L2214.4 762.3" stroke="#000" stroke-width="2.6" fill="none"/>
<path d="M2204.5 743.9C2207.6 746.5 2220.6 755.5 2223 759.5C2225.3 763.5 2219.9 765.2 2218.7 768C2217.5 770.8 2216.3 775.1 2215.9 776.5" stroke="#000" stroke-width="5" fill="none"/>
<path d="M2183.2 760.9L2183.2 787.9" stroke="#000" stroke-width="2.6" fill="none"/>
<path d="M2161.9 802.1C2164.3 800.8 2171.4 795.7 2176.1 794.3C2180.9 792.8 2187.2 793.4 2190.3 793.5C2193.4 793.7 2193.9 795 2194.6 795.2" stroke="#000" stroke-width="2.6" fill="none"/>
<path d="M2294.6 848.2L2025.4 1001.1L2025.4 1209.3L1914.2 1270.8" stroke="#000" stroke-width="3" fill="none"/>
<path d="M2339.4 820.5L2400 788" stroke="#000" stroke-width="3" fill="none"/>
<path d="M2268.6 920L2282.5 966.8L2282.5 1000.9C2281.4 1002.3 2277.3 1005.2 2276.1 1009.4C2274.8 1013.7 2274.5 1020.1 2275 1026.4C2275.6 1032.8 2276.8 1041.3 2279.3 1047.7C2281.8 1054.1 2285.8 1060.5 2289.9 1064.8C2294 1069 2301.5 1071.9 2303.8 1073.3L2303.8 1107.3L2310.1 1110.5L2345.3 1092.4L2346.3 1000.9L2333.6 951.9L2333.6 920" stroke="#000" stroke-width="3" fill="none"/>
<path d="M2318.7 920L2318.7 958.3L2328.2 990.3L2336.8 1011.5L2336.8 1047.7C2335.3 1049.2 2332.9 1053.1 2328.2 1056.3C2323.6 1059.4 2313 1064.1 2309.1 1066.9C2305.2 1069.7 2305.5 1072.2 2304.8 1073.3L2304.8 1107.3" stroke="#000" stroke-width="2.5" fill="none"/>
<path d="M2321.4 920L2321.4 958.3L2330.8 990.3L2334.6 1011.5L2334.6 1045.6" stroke="#000" stroke-width="1.8" fill="none"/>
<path d="M2345.7 990.3C2347.8 989.9 2353.9 986.4 2358 988.1C2362.2 989.9 2367.8 995.2 2370.8 1000.9C2373.9 1006.6 2375.6 1016.5 2376.4 1022.2C2377.1 1027.9 2379.9 1030.3 2375.1 1035C2370.3 1039.6 2352 1047.4 2347.4 1049.9" stroke="#000" stroke-width="3" fill="none"/>
<ellipse cx="2307" cy="1035" rx="17.5" ry="23.8" transform="rotate(-28 2307 1035)" stroke="#000" stroke-width="3.5" fill="none"/>
<ellipse cx="2308.7" cy="1039.2" rx="9.6" ry="13.8" transform="rotate(-25 2308.7 1039.2)" stroke="#000" stroke-width="3" fill="none"/>
<ellipse cx="2309.5" cy="1040.3" rx="5.1" ry="8.1" transform="rotate(-20 2309.5 1040.3)" stroke="#000" stroke-width="2.5" fill="none"/>
<path d="M2286.7 969L2327.2 992.4" stroke="#000" stroke-width="2.5" fill="none"/>
<path d="M2275 920L2317.6 943.4" stroke="#000" stroke-width="2.5" fill="none"/>
<path d="M2272.3 918.4L2318 944" stroke="#000" stroke-width="2.5" fill="none"/>
<path d="M2311.6 1109.5C2311.6 1113.4 2312.4 1126.9 2311.6 1132.9C2310.9 1138.9 2319.8 1127.9 2307 1145.7C2294.1 1163.4 2248.4 1223.4 2234.6 1239.3C2220.7 1255.3 2237.4 1247.5 2223.9 1241.5C2210.4 1235.4 2167.5 1209.8 2153.7 1203.1C2139.8 1196.5 2150.1 1197.8 2140.9 1201.4C2131.7 1205.1 2105.1 1219.6 2098.3 1224.9C2091.6 1230.1 2091.9 1227.2 2100.4 1233C2109 1238.7 2139.5 1255.3 2149.4 1259.6C2159.3 1263.8 2155.6 1260.3 2160.1 1258.5C2164.5 1256.7 2171.8 1250.2 2176 1248.9C2180.3 1247.7 2184 1250.7 2185.6 1251" fill="none" stroke="#000" stroke-width="14" stroke-linecap="round" stroke-linejoin="round"/>
<path d="M2311.6 1109.5C2311.6 1113.4 2312.4 1126.9 2311.6 1132.9C2310.9 1138.9 2319.8 1127.9 2307 1145.7C2294.1 1163.4 2248.4 1223.4 2234.6 1239.3C2220.7 1255.3 2237.4 1247.5 2223.9 1241.5C2210.4 1235.4 2167.5 1209.8 2153.7 1203.1C2139.8 1196.5 2150.1 1197.8 2140.9 1201.4C2131.7 1205.1 2105.1 1219.6 2098.3 1224.9C2091.6 1230.1 2091.9 1227.2 2100.4 1233C2109 1238.7 2139.5 1255.3 2149.4 1259.6C2159.3 1263.8 2155.6 1260.3 2160.1 1258.5C2164.5 1256.7 2171.8 1250.2 2176 1248.9C2180.3 1247.7 2184 1250.7 2185.6 1251" fill="none" stroke="#fff" stroke-width="8.8" stroke-linecap="round" stroke-linejoin="round"/>
<path d="M1076 1155.5L1194 1155.5" stroke="#000" stroke-width="3" fill="none"/>
<path d="M1310.1 921.3C1310.4 925.4 1312.9 937.8 1312.2 946.1C1311.5 954.4 1309.2 964.5 1305.8 971C1302.4 977.5 1298.1 981.3 1291.6 985.2C1285.1 989 1276.2 992.1 1266.8 994C1257.3 995.9 1247.3 995 1234.8 996.5C1222.4 998 1203.5 999.9 1192.3 1002.9C1181 1005.9 1173.6 1009.5 1167.4 1014.3C1161.2 1019 1158 1025.5 1155 1031.3C1152 1037.1 1150.6 1043.1 1149.7 1049C1148.8 1054.9 1149.1 1061.1 1149.7 1066.8C1150.3 1072.4 1152.6 1080.1 1153.2 1082.7" stroke="#000" stroke-width="2.6" fill="none"/>
<path d="M1312.2 947.9L1531.1 1136" stroke="#000" stroke-width="2.6" fill="none"/>
<path d="M1376.8 1006.4L1401.6 1034.8L1490.3 1112.9" stroke="#000" stroke-width="2" fill="none"/>
<path d="M1151.4 1043.7L1185.2 1077.4" stroke="#000" stroke-width="2.6" fill="none"/>
<path d="M1185.2 1077.4C1186.3 1076.2 1184.6 1073.3 1192.3 1070.3C1199.9 1067.4 1224.8 1061.4 1231.3 1059.7C1233.1 1062.6 1234.8 1066.2 1241.9 1077.4C1249 1088.6 1260.9 1105.2 1273.9 1127.1C1286.9 1149 1312.3 1195.1 1320 1208.7L1371.4 1256.6" stroke="#000" stroke-width="2.6" fill="none"/>
<path d="M1185.2 1077.4C1186.9 1090.4 1190.5 1114.1 1195.8 1155.5C1201.1 1196.9 1211.8 1285 1217.1 1325.8C1222.4 1366.5 1226 1387.6 1227.7 1399.9" stroke="#000" stroke-width="2.6" fill="none"/>
<path d="M1228.7 1400C1231.4 1427.6 1239 1517.3 1245.2 1565.6C1251.4 1613.9 1261.1 1658.7 1265.9 1689.8C1270.7 1720.8 1271.8 1724.3 1274.2 1751.9C1276.6 1779.5 1279.2 1809.8 1280.4 1855.4C1281.6 1900.9 1281.4 1996.8 1281.6 2025.1" stroke="#000" stroke-width="2.6" fill="none"/>
<path d="M1323.5 1212.2L1341.3 1334.7" stroke="#000" stroke-width="2.6" fill="none"/>
<path d="M1363.2 1509.7C1365.6 1529.4 1372.5 1587.3 1377.7 1627.7C1382.9 1668 1390.4 1713.9 1394.2 1751.9C1398 1789.8 1399.2 1809.8 1400.4 1855.4C1401.7 1900.9 1401.5 1996.8 1401.7 2025.1" stroke="#000" stroke-width="2.6" fill="none"/>
<path d="M1272.1 2039.6C1273.8 2037.5 1276.6 2030.9 1282.5 2027.1C1288.3 2023.3 1298.3 2017.5 1307.3 2016.8C1316.3 2016.1 1325.9 2020.2 1336.3 2023C1346.6 2025.8 1359.7 2031.6 1369.4 2033.4C1379.1 2035.1 1386.6 2035.8 1394.2 2033.4C1401.8 2030.9 1411.5 2021.3 1414.9 2018.9" stroke="#000" stroke-width="2.6" fill="none"/>
<ellipse cx="1431.8" cy="1189.2" rx="88.7" ry="31.2" transform="rotate(-45 1431.8 1189.2)" stroke="#000" stroke-width="3.2" fill="none"/>
<ellipse cx="1434.2" cy="1186.7" rx="84.4" ry="28.4" transform="rotate(-45 1434.2 1186.7)" stroke="#000" stroke-width="2" fill="none"/>
<path d="M1430 1212.2L1437.1 1203.4L1465.5 1189.2L1476.1 1173.2L1493.8 1162.6L1502.7 1160.8L1568.4 1276.1L1554.2 1288.5L1550.6 1304.5L1550.6 1396.7L1525.8 1414.5L1424.7 1359.5L1430 1336.4L1430 1212.2Z" fill="#fff"/>
<path d="M1493.8 1162.6L1616.3 1089.8L1684.7 1212.2L1555.9 1286" stroke="#000" stroke-width="2.6" fill="none"/>
<path d="M1502.7 1160.8L1568.4 1276.1" stroke="#000" stroke-width="2.6" fill="none"/>
<path d="M1684.7 1212.2L1700 1208" stroke="#000" stroke-width="2.6" fill="none"/>
<ellipse cx="1596.7" cy="1182.8" rx="17" ry="20.6" transform="rotate(-20 1596.7 1182.8)" stroke="#000" stroke-width="2.6" fill="none"/>
<ellipse cx="1593.9" cy="1185.6" rx="11.4" ry="14.9" transform="rotate(-20 1593.9 1185.6)" stroke="#000" stroke-width="2" fill="none"/>
<path d="M1490.3 1162.6C1487.9 1164.3 1480.2 1168.8 1476.1 1173.2C1472 1177.6 1472 1184.2 1465.5 1189.2C1459 1194.2 1441.8 1201 1437.1 1203.4C1435.9 1204.8 1431.2 1190.1 1430 1212.2C1428.8 1234.4 1430 1315.7 1430 1336.4C1428.8 1340 1429.4 1350 1422.9 1357.7C1416.4 1365.4 1396.3 1378.4 1391 1382.6" stroke="#000" stroke-width="2.6" fill="none"/>
<ellipse cx="1488.5" cy="1264.8" rx="20.6" ry="31.2" transform="rotate(-25 1488.5 1264.8)" stroke="#000" stroke-width="2.6" fill="none"/>
<path d="M1476.1 1245.9L1508 1272.6" stroke="#000" stroke-width="2.6" fill="none"/>
<path d="M1355.5 1500C1346 1490.5 1311.7 1457.1 1298.7 1442.9C1285.7 1428.6 1283 1425.7 1277.4 1414.5C1271.8 1403.3 1266.2 1384.3 1265 1375.5C1263.8 1366.6 1265.9 1367.2 1270.3 1361.3C1274.7 1355.4 1283.3 1345 1291.6 1340C1299.9 1334.9 1312.3 1332 1320 1331.1C1327.7 1330.2 1334.8 1334.1 1337.7 1334.7" stroke="#000" stroke-width="2.6" fill="none"/>
<path d="M1337.7 1334.7L1504.5 1500" stroke="#000" stroke-width="2.6" fill="none"/>
<path d="M1355.3 1500.2L1733.7 1880.2" stroke="#000" stroke-width="2.6" fill="none"/>
<path d="M1504.3 1500.2L1795.8 1793.3" stroke="#000" stroke-width="2.6" fill="none"/>
<path d="M1424.7 1359.5L1534.7 1421.6" stroke="#000" stroke-width="2.6" fill="none"/>
<path d="M1561.3 1308C1561.1 1322.8 1562.2 1376.9 1560.6 1396.7C1558.9 1416.6 1555.6 1418.6 1551.3 1426.9C1547 1435.2 1541.9 1440.5 1534.7 1446.4C1527.4 1452.3 1517.9 1458.1 1508 1462.4C1498.2 1466.6 1480.8 1470.4 1475.4 1472" fill="none" stroke="#000" stroke-width="19" stroke-linecap="butt" stroke-linejoin="round"/>
<path d="M1561.3 1308C1561.1 1322.8 1562.2 1376.9 1560.6 1396.7C1558.9 1416.6 1555.6 1418.6 1551.3 1426.9C1547 1435.2 1541.9 1440.5 1534.7 1446.4C1527.4 1452.3 1517.9 1458.1 1508 1462.4C1498.2 1466.6 1480.8 1470.4 1475.4 1472" fill="none" stroke="#fff" stroke-width="14" stroke-linecap="butt" stroke-linejoin="round"/>
<ellipse cx="1561.3" cy="1307.3" rx="8.2" ry="3.9" transform="rotate(0 1561.3 1307.3)" stroke="#000" stroke-width="2.4" fill="#fff"/>
<path d="M1670.1 1245.4C1670.1 1261.2 1668.9 1321.8 1670.1 1340C1671.2 1358.3 1673.8 1351.9 1676.9 1354.8C1680 1357.8 1676.4 1362.2 1688.7 1357.8C1701 1353.3 1740.4 1333.1 1750.8 1328.2" fill="none" stroke="#000" stroke-width="19" stroke-linecap="butt" stroke-linejoin="round"/>
<path d="M1670.1 1245.4C1670.1 1261.2 1668.9 1321.8 1670.1 1340C1671.2 1358.3 1673.8 1351.9 1676.9 1354.8C1680 1357.8 1676.4 1362.2 1688.7 1357.8C1701 1353.3 1740.4 1333.1 1750.8 1328.2" fill="none" stroke="#fff" stroke-width="14" stroke-linecap="butt" stroke-linejoin="round"/>
<ellipse cx="1670.1" cy="1244.8" rx="8.9" ry="4.1" transform="rotate(0 1670.1 1244.8)" stroke="#000" stroke-width="2.4" fill="#fff"/>
<ellipse cx="1751.4" cy="1326.7" rx="3.5" ry="6.5" transform="rotate(-30 1751.4 1326.7)" stroke="#000" stroke-width="2.4" fill="#fff"/>
<path d="M1663.6 1224.7L1663.6 1238" stroke="#000" stroke-width="2" fill="none"/>
<path d="M1670.4 1218.8L1670.4 1238" stroke="#000" stroke-width="2" fill="none"/>
<path d="M1681.3 1295.7L1736 1311.9L1737.5 1319.3" stroke="#000" stroke-width="2.6" fill="none"/>
<path d="M1600 1097.6L1616.3 1088.7L1685.7 1209.9L1600 1263.2" stroke="#000" stroke-width="2.6" fill="none"/>
<path d="M1685.7 1210.5L2271 1402" stroke="#000" stroke-width="2.6" fill="none"/>
<path d="M1753.8 1341.5L2175.7 1480.8" stroke="#000" stroke-width="2.6" fill="none"/>
<path d="M1600 1310.5L1659.1 1344.5" stroke="#000" stroke-width="2.6" fill="none"/>
<path d="M1600 1345.9L1727.1 1452.4" stroke="#000" stroke-width="2.6" fill="none"/>
<path d="M1650 1389.8L1728.7 1453.9" stroke="#000" stroke-width="2.6" fill="none"/>
<path d="M1798.1 1354.8L1839.5 1390.3" stroke="#000" stroke-width="2.6" fill="none"/>
<path d="M1697.6 1393.3 L1886.8 1288.3" stroke="#000" stroke-width="2.6" stroke-dasharray="18 14" fill="none"/>
<path d="M1764.1 1288.3C1763.4 1289.5 1759.4 1292.5 1759.7 1295.7C1759.9 1298.9 1763.1 1305.3 1765.6 1307.5C1768 1309.7 1773 1308.7 1774.5 1309" stroke="#000" stroke-width="2.4" fill="none"/>
<path d="M1770 1292.7C1771 1293.7 1774.9 1296.4 1775.9 1298.6C1776.9 1300.9 1775.9 1304.8 1775.9 1306" stroke="#000" stroke-width="2.2" fill="none"/>
<path d="M1694.6 1385.9C1694.1 1387.1 1691.4 1391.3 1691.7 1393.3C1691.9 1395.2 1695.4 1397 1696.1 1397.7" stroke="#000" stroke-width="2.2" fill="none"/>
<path d="M1702 1390.3C1702.7 1391.5 1706.1 1395.2 1706.4 1397.7C1706.8 1400.2 1704.5 1403.9 1704.1 1405.1" stroke="#000" stroke-width="2.2" fill="none"/>
<path d="M2322.7 1397.2C2318.2 1397.4 2304.4 1397.2 2295.8 1398C2287.1 1398.9 2280.6 1400 2270.9 1402.2C2261.3 1404.4 2248.9 1405.8 2237.8 1411.3C2226.8 1416.8 2213.7 1426.5 2204.7 1435.3C2195.7 1444.1 2188.8 1456.7 2184 1464.3C2179.2 1471.9 2179.2 1472.6 2175.7 1480.8C2172.3 1489.1 2167.4 1498.1 2163.3 1514C2159.2 1529.8 2155 1556 2150.9 1576C2146.7 1596.1 2142.6 1616.8 2138.5 1634C2134.3 1651.3 2131.6 1666.4 2126 1679.5C2120.5 1692.6 2114.3 1703.7 2105.4 1712.7C2096.4 1721.6 2086 1727.8 2072.2 1733.4C2058.4 1738.9 2043.3 1741.6 2022.6 1745.8C2001.9 1749.9 1972.2 1754.7 1948 1758.2C1923.9 1761.6 1896.3 1763.6 1877.7 1766.5C1859 1769.4 1850.1 1770.7 1836.3 1775.6C1822.5 1780.4 1803.2 1791.4 1794.9 1795.4C1786.6 1799.5 1788 1799.2 1786.6 1800" stroke="#000" stroke-width="2.6" fill="none"/>
<path d="M1733.7 1917.4C1733.7 1911.2 1731.6 1893.3 1733.7 1880.2C1735.7 1867.1 1739.9 1851.2 1746.1 1838.8C1752.3 1826.4 1761.3 1814.6 1770.9 1805.7C1780.6 1796.7 1790.9 1790.5 1804.1 1785C1817.2 1779.5 1842.3 1774.6 1850 1772.6" stroke="#000" stroke-width="2.6" fill="none"/>
<path d="M1670.7 1665.1L1832.1 1569.8L1939.8 1509.8L1981.2 1485" stroke="#000" stroke-width="2.6" fill="none"/>
<path d="M1981.2 1485C1983.6 1482.9 1992.2 1476.7 1995.7 1472.6C1999.1 1468.4 2000.8 1462.2 2001.9 1460.1L2001.9 1431.2L2008.1 1427.9L2101.2 1461" stroke="#000" stroke-width="2.6" fill="none"/>
<path d="M2003.9 1465.1L2093.8 1494.1" stroke="#000" stroke-width="2" fill="none"/>
<path d="M1732.8 1720.9L2076.4 1526.4C2079.5 1523.3 2090.9 1514.6 2095 1507.7C2099.1 1500.8 2100.2 1492.9 2101.2 1485C2102.2 1477 2101.2 1464.3 2101.2 1460.1" stroke="#000" stroke-width="2.6" fill="none"/>
<path d="M1736.9 1729.2L2076.4 1534.7" stroke="#000" stroke-width="2" fill="none"/>
<ellipse cx="1952.2" cy="1547.1" rx="16.6" ry="9.1" transform="rotate(0 1952.2 1547.1)" stroke="#000" stroke-width="2.4" fill="none"/>
<ellipse cx="1954.3" cy="1549.6" rx="10.3" ry="5" transform="rotate(0 1954.3 1549.6)" stroke="#000" stroke-width="2" fill="none"/>
<ellipse cx="1760.9" cy="1656.8" rx="15.7" ry="8.3" transform="rotate(0 1760.9 1656.8)" stroke="#000" stroke-width="2.4" fill="none"/>
<ellipse cx="1762.6" cy="1659.7" rx="9.9" ry="4.6" transform="rotate(0 1762.6 1659.7)" stroke="#000" stroke-width="2" fill="none"/>
<path d="M1985.3 1586.4L2072.2 1733.4" stroke="#000" stroke-width="2.6" fill="none"/>
<path d="M1879.7 1646.4L1948 1758.2" stroke="#000" stroke-width="2.6" fill="none"/>
<path d="M1650 1646.4L1703.8 1692L1794.9 1795.4" stroke="#000" stroke-width="2.6" fill="none"/>
<path d="M1751.4 1472.6C1757.3 1477.4 1775.2 1489.8 1786.6 1501.5C1798 1513.3 1811.8 1531.9 1819.7 1542.9C1827.7 1554 1831.8 1563.6 1834.2 1567.8" stroke="#000" stroke-width="2.6" fill="none"/>
<path d="M1888 1439.4C1892.5 1445 1906.3 1461.2 1914.9 1472.6C1923.6 1483.9 1935.6 1501.9 1939.8 1507.7" stroke="#000" stroke-width="2.6" fill="none"/>
<path d="M1801.1 1580.2C1789 1586.5 1742.9 1613.8 1728.7 1618.3C1714.4 1622.8 1717.7 1627.2 1715.4 1607.1C1713.1 1587 1713.6 1519 1715 1497.4C1716.4 1475.8 1698.6 1493.9 1723.7 1477.5C1748.7 1461.1 1839.9 1410.9 1865.3 1398.9C1890.6 1386.9 1874 1386.3 1875.6 1405.5C1877.2 1424.7 1873.1 1489.7 1874.8 1514C1876.5 1538.2 1880.5 1538.2 1886 1551.2C1891.4 1564.2 1903.9 1585 1907.5 1591.8" fill="none" stroke="#000" stroke-width="23" stroke-linecap="butt" stroke-linejoin="round"/>
<path d="M1801.1 1580.2C1789 1586.5 1742.9 1613.8 1728.7 1618.3C1714.4 1622.8 1717.7 1627.2 1715.4 1607.1C1713.1 1587 1713.6 1519 1715 1497.4C1716.4 1475.8 1698.6 1493.9 1723.7 1477.5C1748.7 1461.1 1839.9 1410.9 1865.3 1398.9C1890.6 1386.9 1874 1386.3 1875.6 1405.5C1877.2 1424.7 1873.1 1489.7 1874.8 1514C1876.5 1538.2 1880.5 1538.2 1886 1551.2C1891.4 1564.2 1903.9 1585 1907.5 1591.8" fill="none" stroke="#fff" stroke-width="17.8" stroke-linecap="butt" stroke-linejoin="round"/>
<ellipse cx="1908.3" cy="1592.6" rx="9.1" ry="6.6" transform="rotate(-30 1908.3 1592.6)" stroke="#000" stroke-width="2.4" fill="#fff"/>
<path d="M1737.8 1686.5C1723.7 1691.5 1670.9 1704.4 1653 1716.7C1635 1729 1636.1 1745.7 1630.2 1760.1C1624.3 1774.6 1618.5 1793.3 1617.8 1803.6C1617.1 1814 1621.6 1818.1 1626 1822.2C1630.5 1826.4 1638.5 1829.5 1644.7 1828.4C1650.9 1827.4 1658.7 1821.5 1663.3 1816C1667.9 1810.5 1669.3 1799.1 1672.4 1795.3C1675.5 1791.5 1672.8 1786.8 1681.9 1793.3C1691.1 1799.7 1719.9 1827.1 1727.5 1833.8" fill="none" stroke="#000" stroke-width="17" stroke-linecap="butt" stroke-linejoin="round"/>
<path d="M1737.8 1686.5C1723.7 1691.5 1670.9 1704.4 1653 1716.7C1635 1729 1636.1 1745.7 1630.2 1760.1C1624.3 1774.6 1618.5 1793.3 1617.8 1803.6C1617.1 1814 1621.6 1818.1 1626 1822.2C1630.5 1826.4 1638.5 1829.5 1644.7 1828.4C1650.9 1827.4 1658.7 1821.5 1663.3 1816C1667.9 1810.5 1669.3 1799.1 1672.4 1795.3C1675.5 1791.5 1672.8 1786.8 1681.9 1793.3C1691.1 1799.7 1719.9 1827.1 1727.5 1833.8" fill="none" stroke="#fff" stroke-width="12" stroke-linecap="butt" stroke-linejoin="round"/>
<ellipse cx="1728.3" cy="1833.8" rx="6.6" ry="8.3" transform="rotate(-40 1728.3 1833.8)" stroke="#000" stroke-width="2.4" fill="#fff"/>
<ellipse cx="1737.8" cy="1689.8" rx="3.3" ry="7.5" transform="rotate(-20 1737.8 1689.8)" stroke="#000" stroke-width="2.4" fill="#fff"/>
<path d="M1671.6 1660.8L1850 1557.3" stroke="#000" stroke-width="2.6" fill="none"/>
<path d="M1733.7 1722.9L1850 1653.3" stroke="#000" stroke-width="2.2" fill="none"/>
<path d="M1737.8 1729.1L1850 1661.6" stroke="#000" stroke-width="2" fill="none"/>
<ellipse cx="1760.6" cy="1657.5" rx="14.9" ry="8.3" transform="rotate(0 1760.6 1657.5)" stroke="#000" stroke-width="2.4" fill="none"/>
<ellipse cx="1761.8" cy="1660" rx="9.1" ry="4.1" transform="rotate(0 1761.8 1660)" stroke="#000" stroke-width="2" fill="none"/>
<path d="M1721.3 1453.8C1733 1461.4 1773 1481.4 1791.6 1499.3C1810.3 1517.3 1826.1 1551.1 1833 1561.4" stroke="#000" stroke-width="2.6" fill="none"/>
<path d="M924.9 1509.6L924.9 1629.8" stroke="#000" stroke-width="3" fill="none"/>
<path d="M984.9 1681.1C983.8 1678.7 981.2 1671.6 978.5 1666.7C975.7 1661.7 973.7 1656.1 968.2 1651.3C962.8 1646.5 953.8 1640.5 945.8 1637.8C937.8 1635.1 927.3 1634.3 920.1 1635.3C912.9 1636.2 905.6 1639.6 902.5 1643.3C899.4 1646.9 899.1 1652.6 901.5 1657.1C903.9 1661.5 907.9 1664.1 916.9 1669.9C925.9 1675.6 946.8 1685.3 955.4 1691.7C963.9 1698.1 966.9 1700.7 968.2 1708.3C969.5 1715.9 967.9 1718.8 963.4 1737.2C958.9 1755.6 944.7 1805.3 941 1818.9" fill="none" stroke="#000" stroke-width="14.5" stroke-linecap="butt" stroke-linejoin="round"/>
<path d="M984.9 1681.1C983.8 1678.7 981.2 1671.6 978.5 1666.7C975.7 1661.7 973.7 1656.1 968.2 1651.3C962.8 1646.5 953.8 1640.5 945.8 1637.8C937.8 1635.1 927.3 1634.3 920.1 1635.3C912.9 1636.2 905.6 1639.6 902.5 1643.3C899.4 1646.9 899.1 1652.6 901.5 1657.1C903.9 1661.5 907.9 1664.1 916.9 1669.9C925.9 1675.6 946.8 1685.3 955.4 1691.7C963.9 1698.1 966.9 1700.7 968.2 1708.3C969.5 1715.9 967.9 1718.8 963.4 1737.2C958.9 1755.6 944.7 1805.3 941 1818.9" fill="none" stroke="#fff" stroke-width="9.5" stroke-linecap="butt" stroke-linejoin="round"/>
<path d="M899.3 1839.7L862.4 1820.5L856 1824.4L856 1961.5C857.6 1963.1 852.6 1963.1 865.6 1971.2C878.7 1979.2 923.1 2003.2 934.6 2009.6" stroke="#000" stroke-width="2.6" fill="none"/>
<path d="M899.3 1839.7L900.3 1926.3C901.4 1929 901.1 1937.5 907.3 1942.3C913.6 1947.1 932.7 1953 937.8 1955.1" stroke="#000" stroke-width="3.2" fill="none"/>
<path d="M865.6 1849.4L886.5 1860.6L886.5 1883L865.6 1871.8L865.6 1849.4Z" stroke="#000" stroke-width="2.6" fill="none"/>
<path d="M869.5 1855.1L882.6 1862.2L882.6 1877.6L869.5 1870.2L869.5 1855.1Z" stroke="#000" stroke-width="1.8" fill="none"/>
<path d="M937.8 1955.1L936.2 1859C934.8 1857.1 930.5 1852 928.1 1847.8C925.7 1843.5 922.6 1837.9 921.7 1833.3C920.8 1828.8 922.5 1822.6 922.7 1820.5L932.9 1817.3" stroke="#000" stroke-width="2.6" fill="none"/>
<path d="M942.6 1815.7L987.4 1839.1C988.1 1840.3 990.6 1827.4 991.3 1846.2C991.9 1865 991.3 1934.3 991.3 1951.9L997.1 1971.2L998.7 2019.2L1001.9 2044.9L995.4 2062.5L996.1 2096.8L989 2101.3L943.2 2074.4C942.6 2073.2 940 2072.8 939.4 2067.3C938.7 2061.9 939.4 2045.9 939.4 2041.7" stroke="#000" stroke-width="3" fill="none"/>
<path d="M945.8 1820.5L985.8 1842.3" stroke="#000" stroke-width="1.8" fill="none"/>
<ellipse cx="961.8" cy="1863.8" rx="10.6" ry="14.7" transform="rotate(-20 961.8 1863.8)" stroke="#000" stroke-width="2.8" fill="none"/>
<ellipse cx="932.9" cy="1834.9" rx="2.9" ry="3.8" transform="rotate(0 932.9 1834.9)" stroke="#000" stroke-width="2.4" fill="none"/>
<path d="M941 1926.3L984.2 1951.9" stroke="#000" stroke-width="2.4" fill="none"/>
<path d="M942.6 1942.3L987.4 1964.7" stroke="#000" stroke-width="2.4" fill="none"/>
<ellipse cx="959.2" cy="2020.8" rx="25" ry="30.4" transform="rotate(-20 959.2 2020.8)" stroke="#000" stroke-width="3.2" fill="none"/>
<ellipse cx="956" cy="2024" rx="17.6" ry="22.4" transform="rotate(-20 956 2024)" stroke="#000" stroke-width="2.4" fill="none"/>
<ellipse cx="950.6" cy="2028.8" rx="9.6" ry="13.5" transform="rotate(-20 950.6 2028.8)" stroke="#000" stroke-width="3" fill="none"/>
<path d="M997.1 1980.8C999.5 1983.2 1008.2 1989.3 1011.5 1995.2C1014.8 2001.1 1016.7 2010.4 1016.9 2016C1017.2 2021.6 1015.3 2025.9 1013.1 2028.8C1010.8 2031.8 1005.1 2032.9 1003.5 2033.7" stroke="#000" stroke-width="2.6" fill="none"/>
<path d="M995.4 1919.9L1001.9 1926.3L998.7 1933.3" stroke="#000" stroke-width="2.4" fill="none"/>
<path d="M997.7 2072.1C1003.5 2076.8 1020 2090.4 1032.3 2100C1044.6 2109.6 1064.9 2124.8 1071.4 2129.8" fill="none" stroke="#000" stroke-width="15" stroke-linecap="butt" stroke-linejoin="round"/>
<path d="M997.7 2072.1C1003.5 2076.8 1020 2090.4 1032.3 2100C1044.6 2109.6 1064.9 2124.8 1071.4 2129.8" fill="none" stroke="#fff" stroke-width="10" stroke-linecap="butt" stroke-linejoin="round"/>
<ellipse cx="1071.4" cy="2128.8" rx="5.1" ry="7.1" transform="rotate(-40 1071.4 2128.8)" stroke="#000" stroke-width="2.4" fill="#fff"/>
<path d="M1061.2 2110.6C1064.9 2108.3 1075 2098.8 1083.6 2096.8C1092.1 2094.8 1104.7 2095.6 1112.4 2098.7C1120.2 2101.8 1127.4 2108.9 1130.1 2115.4C1132.7 2121.9 1131.9 2132.7 1128.5 2137.8C1125 2142.9 1114.7 2143.3 1109.2 2145.8C1103.8 2148.4 1098 2152 1095.8 2153.2" fill="none" stroke="#000" stroke-width="15" stroke-linecap="butt" stroke-linejoin="round"/>
<path d="M1061.2 2110.6C1064.9 2108.3 1075 2098.8 1083.6 2096.8C1092.1 2094.8 1104.7 2095.6 1112.4 2098.7C1120.2 2101.8 1127.4 2108.9 1130.1 2115.4C1132.7 2121.9 1131.9 2132.7 1128.5 2137.8C1125 2142.9 1114.7 2143.3 1109.2 2145.8C1103.8 2148.4 1098 2152 1095.8 2153.2" fill="none" stroke="#fff" stroke-width="10" stroke-linecap="butt" stroke-linejoin="round"/>
<ellipse cx="1095.8" cy="2153.8" rx="5.1" ry="6.4" transform="rotate(0 1095.8 2153.8)" stroke="#000" stroke-width="2.4" fill="#fff"/>
<path d="M840 1833.3L1102.8 1685.9" stroke="#000" stroke-width="3" fill="none"/>
<path d="M809 1951L958.6 1865.4" stroke="#000" stroke-width="3" fill="none"/>
<path d="M1011.5 1836.5L1106 1782" stroke="#000" stroke-width="3" fill="none"/>
<path d="M1131.7 1605.8C1134.3 1604.2 1140.2 1599.8 1147.7 1596.2C1155.2 1592.5 1166.4 1587.3 1176.5 1584C1186.7 1580.7 1196.3 1577.9 1208.6 1576.3C1220.9 1574.7 1243.3 1574.7 1250.3 1574.4" stroke="#000" stroke-width="2.6" fill="none"/>
<path d="M1134.9 1604.2C1134.1 1607.1 1130.6 1616.7 1130.1 1621.8C1129.5 1626.9 1131.4 1632.5 1131.7 1634.6" stroke="#000" stroke-width="2.6" fill="none"/>
<path d="M1138.1 1606.4L1186.2 1631.4" stroke="#000" stroke-width="2.6" fill="none"/>
<path d="M1253.5 1609C1243.8 1612.2 1206.5 1623.7 1195.8 1628.2C1185.1 1632.7 1190.2 1633.3 1189.4 1636.2C1188.6 1639.2 1188.8 1643.4 1191 1645.8C1193.1 1648.2 1191.5 1651.4 1202.2 1650.6C1212.9 1649.8 1246.2 1642.6 1255.1 1641" stroke="#000" stroke-width="2.6" fill="none"/>
<path d="M1251.9 1612.2C1243 1615.3 1208.8 1626.5 1199 1630.8C1189.2 1635 1193.7 1635.6 1193.2 1637.8C1192.7 1640.1 1193.7 1642.6 1195.8 1644.2C1197.8 1645.8 1195.8 1648.4 1205.4 1647.4C1215 1646.5 1245.4 1640 1253.5 1638.5" stroke="#000" stroke-width="1.8" fill="none"/>
<path d="M1205.4 1660.3L1205.4 1708.3" stroke="#000" stroke-width="2.6" fill="none"/>
<path d="M1189.4 1708.3C1192 1709.1 1197.4 1713.7 1205.4 1713.1C1213.4 1712.6 1227.3 1708.6 1237.4 1705.1C1247.6 1701.7 1261.5 1694.4 1266.3 1692.3" stroke="#000" stroke-width="2.6" fill="none"/>
<path d="M1096.4 1653.8C1105 1649.1 1137 1629.9 1147.7 1625.6C1158.4 1621.4 1156.2 1625.6 1160.5 1628.2C1164.8 1630.8 1170.1 1635.7 1173.3 1641C1176.5 1646.4 1179.2 1654.4 1179.7 1660.3C1180.3 1666.1 1184.6 1669.9 1176.5 1676.3C1168.5 1682.7 1139.1 1695 1131.7 1698.7" stroke="#000" stroke-width="2.6" fill="none"/>
<ellipse cx="1113.1" cy="1675.6" rx="19.9" ry="25" transform="rotate(-15 1113.1 1675.6)" stroke="#000" stroke-width="3.2" fill="none"/>
<ellipse cx="1113.1" cy="1676.9" rx="11.2" ry="14.4" transform="rotate(-15 1113.1 1676.9)" stroke="#000" stroke-width="2.6" fill="none"/>
<ellipse cx="1113.1" cy="1678.2" rx="4.8" ry="6.4" transform="rotate(0 1113.1 1678.2)" stroke="#000" stroke-width="2.6" fill="none"/>
<path d="M1189.4 1708.3C1188.3 1710.5 1190.7 1714.7 1182.9 1721.2C1175.2 1727.6 1149.6 1742.5 1142.9 1746.8L1141.3 1810.9C1139.7 1811.7 1135.4 1815.2 1131.7 1815.7C1127.9 1816.2 1124.2 1817 1118.8 1814.1C1113.5 1811.2 1104.4 1804 1099.6 1798.1C1094.8 1792.2 1092.1 1785.3 1090 1778.8C1087.9 1772.4 1087.3 1762.8 1086.8 1759.6L1074 1753.2L1075.6 1730.8L1086.8 1724.4L1090 1709.9L1106 1700.3" stroke="#000" stroke-width="2.6" fill="none"/>
<ellipse cx="1114" cy="1772.4" rx="10.3" ry="13.5" transform="rotate(-15 1114 1772.4)" stroke="#000" stroke-width="2.8" fill="none"/>
<ellipse cx="1082.6" cy="1748.4" rx="2.6" ry="3.8" transform="rotate(0 1082.6 1748.4)" stroke="#000" stroke-width="3" fill="none"/>
<path d="M1142.9 1750L1152.5 1754.8L1152.5 1794.9L1142.9 1799.7" stroke="#000" stroke-width="2.4" fill="none"/>
<path d="M1147.7 1695.5L1157.3 1689.1L1166.9 1698.7L1176.5 1708.3L1186.2 1711.5" stroke="#000" stroke-width="2.2" fill="none"/>
<path d="M1149.3 1697.1L1160.5 1700.3" stroke="#000" stroke-width="2.2" fill="none"/>
<path d="M1107.6 1721.2L1118.8 1717.9L1122.1 1730.8L1115.6 1738.8L1107.6 1730.8" stroke="#000" stroke-width="2.2" fill="none"/>
<path d="M1094.8 1711.5L1106 1721.2" stroke="#000" stroke-width="2.2" fill="none"/>
<path d="M1125.3 1730.8L1141.3 1738.8" stroke="#000" stroke-width="2.2" fill="none"/>
<path d="M1272.7 2038.5C1274.8 2036.3 1281 2028.7 1285.5 2025.6C1290.1 2022.5 1297.5 2020.8 1299.9 2019.9" stroke="#000" stroke-width="2.6" fill="none"/>
<path d="M420.4 1754.5L420.4 1872" stroke="#000" stroke-width="3" fill="none"/>
<path d="M420.4 1872.1C432.8 1871.3 446.6 1873.4 456.8 1875.2C467 1877 471.3 1878.6 481.7 1883C492.1 1887.4 505.1 1894.1 519.1 1901.7C533.1 1909.2 552.8 1920.6 565.8 1928.1C578.8 1935.7 586.5 1939.5 596.9 1946.8C607.3 1954.1 620.8 1965 628.1 1971.7C635.3 1978.5 637.4 1978.5 640.5 1987.3C643.6 1996.1 645.2 2010.6 646.7 2024.7C648.3 2038.7 649.9 2058.4 649.9 2071.4C649.9 2084.3 648.8 2092.1 646.7 2102.5C644.7 2112.9 640.5 2124.3 637.4 2133.6C634.3 2143 630.7 2149.2 628.1 2158.5C625.5 2167.9 623.1 2179.3 621.8 2189.7C620.5 2200 619.8 2211.5 620.3 2220.8C620.8 2230.1 622.1 2237.9 624.9 2245.7C627.8 2253.5 631.7 2260.2 637.4 2267.5C643.1 2274.8 653 2282 659.2 2289.3C665.4 2296.6 671.4 2302.3 674.8 2311.1C678.1 2319.9 678.9 2332.9 679.4 2342.2C680 2351.6 679.2 2360.4 677.9 2367.1C676.6 2373.9 675.8 2377.5 671.6 2382.7C667.5 2387.9 660.2 2394.4 653 2398.3C645.7 2402.2 637.4 2404.2 628.1 2406.1C618.7 2407.9 604.7 2409.2 596.9 2409.2C589.1 2409.2 589.1 2408.9 581.4 2406.1C573.6 2403.2 562.7 2398 550.2 2392.1C537.8 2386.1 517 2376 506.6 2370.3C496.3 2364.5 496.3 2365.6 487.9 2357.8C479.6 2350 467.2 2336 456.8 2323.6C446.4 2311.1 436.1 2297.6 425.7 2283.1C415.3 2268.5 404.9 2249.9 394.5 2236.4C384.2 2222.9 372.7 2211.5 363.4 2202.1C354.1 2192.8 345.8 2189.2 338.5 2180.3C331.2 2171.5 324.5 2159.6 319.8 2149.2C315.1 2138.8 312.6 2131 310.5 2118.1C308.4 2105.1 307.4 2086.4 307.4 2071.4C307.4 2056.3 308.4 2043.3 310.5 2027.8C312.6 2012.2 315.7 1992.5 319.8 1977.9C324 1963.4 329.2 1953 335.4 1940.6C341.6 1928.1 349.4 1913.3 357.2 1903.2C365 1893.1 371.6 1885.1 382.1 1879.9C392.6 1874.7 407.9 1872.9 420.4 1872.1Z" stroke="#000" stroke-width="3" fill="none"/>
<path d="M612.5 1988.8C609.9 1992.2 602.6 2000.5 596.9 2009.1C591.2 2017.6 583.4 2029.8 578.2 2040.2C573.1 2050.6 569.7 2058.4 565.8 2071.4C561.9 2084.3 557.2 2102.5 554.9 2118.1C552.6 2133.6 551.8 2149.2 551.8 2164.8C551.8 2180.3 552.6 2198.5 554.9 2211.5C557.2 2224.4 561.4 2233.8 565.8 2242.6C570.2 2251.4 576.2 2256.6 581.4 2264.4C586.5 2272.2 593.3 2278.4 596.9 2289.3C600.6 2300.2 602.6 2316.8 603.2 2329.8C603.7 2342.8 601.1 2354.7 600 2367.1C599 2379.6 597.4 2398.3 596.9 2404.5" stroke="#000" stroke-width="2.6" fill="none"/>
<path d="M351.6 2042.7C365.5 2050.5 409.2 2075.6 435 2089.4C460.9 2103.3 493.1 2118.2 506.6 2125.8C520.1 2133.5 514.2 2131.3 516 2135.2C517.8 2139.1 518.6 2144.8 517.5 2149.2C516.5 2153.6 512.6 2159.6 509.7 2161.6C506.9 2163.7 514.4 2168.4 500.4 2161.6C486.4 2154.9 449.5 2134.1 425.7 2121.2C401.8 2108.2 370.7 2092.6 357.2 2083.8C343.7 2075 347.1 2073.4 344.7 2068.2C342.4 2063.1 342 2056.9 343.2 2052.7C344.3 2048.4 350.2 2044.4 351.6 2042.7Z" stroke="#000" stroke-width="2.8" fill="none"/>
<path d="M353.4 2049.6C367 2057.1 409.7 2081.2 435 2094.7C460.3 2108.2 492.4 2123.2 505.1 2130.5C517.8 2137.8 510.3 2134.9 511.3 2138.3C512.3 2141.7 512.1 2147.8 511.3 2150.8C510.5 2153.7 508.4 2155.2 506.6 2156C504.8 2156.9 513.6 2162.6 500.4 2156C487.2 2149.5 450.6 2129.2 427.2 2116.5C403.9 2103.8 373.1 2088.4 360.3 2080.1C347.5 2071.8 352 2071 350.3 2066.7C348.7 2062.4 349.8 2057.1 350.3 2054.2C350.8 2051.4 352.9 2050.3 353.4 2049.6Z" stroke="#000" stroke-width="1.8" fill="none"/>
<path d="M349.4 2114.9C362.1 2122 400.5 2143.5 425.7 2157C450.8 2170.5 486.1 2186.8 500.4 2195.9C514.7 2205 509.5 2206.8 511.3 2211.5C513.1 2216.1 512.6 2221.3 511.3 2223.9C510 2226.5 517.8 2232.7 503.5 2227C489.2 2221.3 450.8 2202.4 425.7 2189.7C400.5 2177 366.8 2160.1 352.5 2150.8C338.2 2141.4 342.3 2138.6 340.1 2133.6C337.8 2128.7 337.6 2124.3 339.1 2121.2C340.7 2118.1 347.7 2116 349.4 2114.9Z" stroke="#000" stroke-width="2.8" fill="none"/>
<path d="M351.6 2121.2C363.9 2128 401.1 2148.9 425.7 2162.3C450.2 2175.7 485.5 2193 498.8 2201.5C512.2 2210 505 2209.8 506 2213C507 2216.2 505.7 2219.2 505.1 2220.8C504.4 2222.4 514.9 2228.3 502 2222.4C489 2216.4 451.6 2197.7 427.2 2185C402.8 2172.3 369.1 2154.6 355.6 2146.1C342.1 2137.5 347.8 2137.3 346.3 2133.6C344.7 2130 345.4 2126.4 346.3 2124.3C347.2 2122.2 350.7 2121.7 351.6 2121.2Z" stroke="#000" stroke-width="1.8" fill="none"/>
<path d="M388.3 2141.4L407 2171" stroke="#000" stroke-width="2.4" fill="none"/>
<path d="M453.7 2241C454.5 2238.4 456.8 2236.6 459.9 2236.4C463 2236.1 463.6 2234.8 472.4 2239.5C481.2 2244.2 500.9 2256.1 512.9 2264.4C524.8 2272.7 537.8 2282.3 544 2289.3C550.2 2296.3 550.7 2302.5 550.2 2306.4C549.7 2310.3 545 2311.9 540.9 2312.7C536.7 2313.4 530.5 2313.4 525.3 2311.1C520.1 2308.8 518.6 2306.4 509.7 2298.6C500.9 2290.9 481.5 2272.2 472.4 2264.4C463.3 2256.6 458.4 2255.8 455.3 2251.9C452.1 2248 452.9 2243.6 453.7 2241Z" stroke="#000" stroke-width="2.6" fill="none"/>
<ellipse cx="520.6" cy="2283.1" rx="6.8" ry="11.8" transform="rotate(-30 520.6 2283.1)" stroke="#000" stroke-width="2.6" fill="none"/>
<ellipse cx="519.1" cy="2278.4" rx="4.4" ry="8.1" transform="rotate(-30 519.1 2278.4)" stroke="#000" stroke-width="2" fill="none"/>
<path d="M500.4 2289.3C502.5 2291.9 508.2 2300.5 512.9 2304.9C517.5 2309.3 522.2 2313.7 528.4 2315.8C534.7 2317.8 546.6 2317.1 550.2 2317.3" stroke="#000" stroke-width="2" fill="none"/>
<path d="M492.6 1979.5C495 1977.7 498.6 1973.5 506.6 1968.6C514.7 1963.7 530.5 1954.1 540.9 1949.9C551.3 1945.8 561.6 1944.2 568.9 1943.7C576.2 1943.2 580.8 1943.2 584.5 1946.8C588.1 1950.4 589.9 1957.2 590.7 1965.5C591.5 1973.8 590.7 1987.8 589.1 1996.6C587.6 2005.5 582.7 2014.8 581.4 2018.4" stroke="#000" stroke-width="2.6" fill="none"/>
<path d="M463 2034C465.1 2024.7 469.3 2006.5 475.5 1996.6C481.7 1986.8 493.1 1978.7 500.4 1974.8C507.7 1970.9 511.8 1971.7 519.1 1973.3C526.3 1974.8 536.7 1978.2 544 1984.2C551.3 1990.1 559 1999.7 562.7 2009.1C566.3 2018.4 566.8 2030.9 565.8 2040.2C564.7 2049.6 561.6 2057.3 556.4 2065.1C551.3 2072.9 543 2082 534.7 2086.9C526.3 2091.9 514.9 2094.2 506.6 2094.7C498.3 2095.2 491.1 2093.9 484.8 2090C478.6 2086.1 472.9 2077.6 469.3 2071.4C465.6 2065.1 464.1 2058.9 463 2052.7C462 2046.4 461 2043.3 463 2034Z" stroke="#000" stroke-width="2.6" fill="none"/>
<ellipse cx="534.7" cy="2010.6" rx="8.7" ry="13.1" transform="rotate(-20 534.7 2010.6)" stroke="#000" stroke-width="2.8" fill="none"/>
<path d="M573.6 2034L578.2 2024.7" stroke="#000" stroke-width="2.2" fill="none"/>
<path d="M578.2 2018.4L581.4 2027.8" stroke="#000" stroke-width="2.2" fill="none"/>
<path d="M229 2185L528.4 2013.7" stroke="#000" stroke-width="3" fill="none"/>
<path d="M631.1 1954.6L1102.8 1685.9" stroke="#000" stroke-width="3" fill="none"/>
<path d="M366.5 2108.7L354.1 2371.8L516 2280" stroke="#000" stroke-width="3" fill="none"/>
<path d="M1858.5 2369.5C1858.8 2368 1858.8 2362.5 1860.3 2360.3C1861.8 2358.2 1864.3 2357.4 1867.6 2356.7C1871 2355.9 1876.8 2355.3 1880.5 2355.9C1884.1 2356.5 1887.6 2358.5 1889.6 2360.3C1891.7 2362.2 1892.6 2364.8 1892.6 2366.9C1892.6 2369.1 1892.6 2371.5 1889.6 2373.2C1886.7 2374.8 1879.3 2376.5 1875 2376.8C1870.7 2377.1 1866.7 2376.2 1864 2375C1861.2 2373.8 1859.4 2370.4 1858.5 2369.5" stroke="#000" stroke-width="2.6" fill="none"/>
<path d="M1860.3 2371.3C1862.1 2372.6 1866.7 2377.7 1871.3 2378.7C1875.9 2379.6 1885.1 2377.1 1887.8 2376.8" stroke="#000" stroke-width="2.6" fill="none"/>
<path d="M1865.8 2378.7L1867.6 2408L1873.1 2411.7L1884.1 2411.7L1887.8 2408L1887.8 2376.8" stroke="#000" stroke-width="2.6" fill="none"/>
<path d="M1866.9 2387.8C1868.6 2388.4 1873.3 2391.5 1876.8 2391.5C1880.3 2391.5 1886 2388.4 1887.8 2387.8" stroke="#000" stroke-width="2.6" fill="none"/>
<path d="M1867.6 2397C1869.2 2397.6 1873.4 2400.7 1876.8 2400.7C1880.2 2400.7 1886 2397.6 1887.8 2397" stroke="#000" stroke-width="2.6" fill="none"/>
<path d="M1867.6 2405.1C1869.2 2405.6 1873.4 2408 1876.8 2408C1880.2 2408 1886 2405.6 1887.8 2405.1" stroke="#000" stroke-width="2.6" fill="none"/>
<path d="M1869.5 2362.2C1870.4 2361.7 1873 2359.6 1875 2359.6C1877 2359.6 1881 2361.1 1881.6 2362.2C1882.2 2363.2 1880.4 2365.2 1878.6 2365.8C1876.9 2366.4 1872.8 2366.4 1871.3 2365.8C1869.8 2365.2 1869.8 2362.8 1869.5 2362.2" stroke="#000" stroke-width="2" fill="none"/>
<path d="M1893.3 2367.7L2000 2367.7" stroke="#000" stroke-width="3" fill="none"/>
<path d="M1878.6 2419L1887.8 2527.2" stroke="#000" stroke-width="2.6" fill="none"/>
<path d="M1721 2523.5L1721 2481.3L1880.5 2472.2" stroke="#000" stroke-width="2.6" fill="none"/>
<path d="M1704.5 2523.5L1721 2511.4L1820 2489.4L1856.6 2496.7L1908 2520.9L1910.9 2532.7L1900.6 2540.7L1849.3 2557.2L1765 2560.9L1761.3 2559.1L1710 2537.1L1704.5 2523.5Z" stroke="#000" stroke-width="2.8" fill="none"/>
<path d="M1705.6 2529L1711.8 2540L1761.3 2562.7L1849.3 2561.3L1902.5 2544.4L1910.9 2534.5" stroke="#000" stroke-width="2" fill="none"/>
<path d="M1765 2514.3L1845.6 2507L1851.1 2510.7L1851.1 2536.3L1845.6 2539.3L1768.6 2542.9L1763.1 2539.3L1763.1 2518L1765 2514.3Z" stroke="#000" stroke-width="2.6" fill="none"/>
<path d="M1767.9 2519.8L1767.9 2537.1" stroke="#000" stroke-width="1.8" fill="none"/>
<ellipse cx="1726.5" cy="2523.5" rx="8.8" ry="4.4" transform="rotate(-5 1726.5 2523.5)" stroke="#000" stroke-width="2.6" fill="none"/>
<ellipse cx="1887.8" cy="2529" rx="8.8" ry="4.4" transform="rotate(-5 1887.8 2529)" stroke="#000" stroke-width="2.6" fill="none"/>
<ellipse cx="1856.6" cy="2529.7" rx="2.9" ry="2.6" transform="rotate(0 1856.6 2529.7)" fill="#000"/>
<path d="M1911 2530.9L2029 2530.9" stroke="#000" stroke-width="3" fill="none"/>
<path d="M1823.7 3025.9L1402 3025.9L1402 2591.4L1963.1 2591.4L1963.1 3025.9L1875 3025.9" stroke="#000" stroke-width="3" fill="none"/>
<path d="M1963.1 2809.5L2081.4 2809.5" stroke="#000" stroke-width="3" fill="none"/>
<path d="M1758.4 2708.6C1758.3 2702.5 1755.9 2682.1 1757.6 2672C1759.4 2661.9 1761.3 2654.4 1768.6 2648.1C1776 2641.9 1790 2637.2 1801.6 2634.6C1813.3 2632 1826.7 2631.2 1838.3 2632.4C1849.9 2633.5 1864.3 2637.1 1871.3 2641.5C1878.3 2646 1878.6 2649.8 1880.5 2659.1C1882.3 2668.5 1882 2691.2 1882.3 2697.6L1877.9 2710.5" stroke="#000" stroke-width="2.8" fill="none"/>
<path d="M1776 2650.7L1864 2646.3L1869.5 2664.6L1856.6 2672L1776 2677.5L1776 2650.7Z" stroke="#000" stroke-width="2.6" fill="none"/>
<path d="M1803.5 2633.5L1803.5 2648.1" stroke="#000" stroke-width="2.6" fill="none"/>
<path d="M1838.3 2632.4L1838.3 2644.5" stroke="#000" stroke-width="2.6" fill="none"/>
<path d="M1757.6 2708.6C1758.9 2710.5 1762.2 2717.2 1765 2719.6C1767.7 2722.1 1772.6 2722.7 1774.1 2723.3" stroke="#000" stroke-width="2.6" fill="none"/>
<path d="M1774.1 2701.3L1774.1 2745.3C1775.7 2747.8 1775.7 2756.6 1783.3 2760C1791 2763.3 1807.8 2765.5 1820 2765.5C1832.2 2765.5 1848.7 2763.3 1856.6 2760C1864.6 2756.6 1865.8 2747.8 1867.6 2745.3L1867.6 2701.3" stroke="#000" stroke-width="2.8" fill="none"/>
<path d="M1779.6 2749C1780.9 2747.1 1780.3 2740.7 1787 2738C1793.7 2735.2 1807.8 2733.1 1820 2732.5C1832.2 2731.9 1853.6 2734 1860.3 2734.3" stroke="#000" stroke-width="2.2" fill="none"/>
<path d="M1801.6 2701.3L1801.6 2679.3L1836.5 2677.5L1836.5 2701.3" stroke="#000" stroke-width="2.6" fill="none"/>
<path d="M1805.3 2681.1L1805.3 2727L1834.6 2725.1L1834.6 2681.1" stroke="#000" stroke-width="2" fill="none"/>
<path d="M1814.5 2706.8L1821.8 2705.7L1822.5 2718.9L1815.2 2719.6L1814.5 2706.8Z" stroke="#000" stroke-width="2.4" fill="none"/>
<path d="M1783.3 2760C1783.9 2763.6 1783.3 2776.5 1787 2782C1790.6 2787.5 1797.4 2790.8 1805.3 2793C1813.3 2795.2 1825.5 2795.7 1834.6 2795.2C1843.8 2794.7 1854.5 2793.5 1860.3 2790C1866.1 2786.6 1867.9 2777.2 1869.5 2774.6L1869.5 2760" stroke="#000" stroke-width="2.8" fill="none"/>
<path d="M1787 2785.6C1790 2787.5 1797.4 2794.5 1805.3 2796.6C1813.3 2798.8 1825.5 2799 1834.6 2798.5C1843.8 2798 1856 2794.5 1860.3 2793.7" stroke="#000" stroke-width="2" fill="none"/>
<path d="M1803.5 2794.8L1807.1 2851.6C1809.3 2853.5 1814.2 2860.7 1820 2862.6C1825.8 2864.6 1836.2 2864 1842 2863.4C1847.8 2862.8 1851.8 2861.5 1854.8 2859C1857.9 2856.4 1859.4 2849.8 1860.3 2848L1856.6 2793.7" stroke="#000" stroke-width="2.8" fill="none"/>
<path d="M1829.1 2862.6L1829.1 2870L1842.7 2870L1844.2 2862.6" stroke="#000" stroke-width="2.6" fill="none"/>
<ellipse cx="1841.2" cy="2926.8" rx="49.5" ry="24.2" transform="rotate(-5 1841.2 2926.8)" stroke="#000" stroke-width="2.8" fill="none"/>
<ellipse cx="1841.2" cy="2926.8" rx="41.4" ry="19.1" transform="rotate(-5 1841.2 2926.8)" stroke="#000" stroke-width="2.6" fill="none"/>
<path d="M1673.3 2932.3L1790.6 2932.3" stroke="#000" stroke-width="3" fill="none"/>
<path d="M1845 2978.2L1883.6 3438.6" stroke="#000" stroke-width="2.6" fill="none"/>
<ellipse cx="2709" cy="2534.6" rx="17.9" ry="20.8" transform="rotate(-15 2709 2534.6)" stroke="#000" stroke-width="3" fill="none"/>
<ellipse cx="2704.6" cy="2537.6" rx="13.4" ry="17.9" transform="rotate(-15 2704.6 2537.6)" stroke="#000" stroke-width="2.4" fill="none"/>
<path d="M2688.2 2524.2C2687.7 2525.5 2685.2 2528.7 2685.2 2531.7C2685.2 2534.6 2687.7 2540.3 2688.2 2542.1" stroke="#000" stroke-width="2.4" fill="none"/>
<path d="M2692.7 2534.6L2670.4 2552.5" stroke="#000" stroke-width="2.6" fill="none"/>
<path d="M2709 2548L2679.3 2568.9" stroke="#000" stroke-width="2.6" fill="none"/>
<path d="M2670.4 2552.5C2669.9 2554 2666.9 2558.7 2667.4 2561.4C2667.9 2564.2 2671.3 2567.6 2673.3 2568.9C2675.3 2570.1 2678.3 2568.9 2679.3 2568.9" stroke="#000" stroke-width="2.6" fill="none"/>
<path d="M2677.8 2551C2678.5 2552.5 2681.8 2557.3 2682.3 2559.9C2682.8 2562.6 2681 2565.6 2680.8 2566.8" stroke="#000" stroke-width="2.4" fill="none"/>
<path d="M2685.2 2546.5C2686 2548 2689.2 2552.7 2689.7 2555.5C2690.2 2558.2 2688.5 2561.7 2688.2 2562.9" stroke="#000" stroke-width="2.4" fill="none"/>
<path d="M2692.7 2542.1C2693.4 2543.6 2696.6 2548.3 2697.1 2551C2697.6 2553.7 2695.9 2557.2 2695.7 2558.5" stroke="#000" stroke-width="2.4" fill="none"/>
<path d="M2700.1 2538.2C2700.7 2539.6 2703.3 2543.9 2703.7 2546.5C2704.1 2549.2 2702.7 2552.7 2702.5 2554" stroke="#000" stroke-width="2.4" fill="none"/>
<path d="M2727 2536.8L2845.4 2536.8" stroke="#000" stroke-width="3" fill="none"/>
<path d="M2670.4 2565.9L2581.1 2641.8" stroke="#000" stroke-width="3" fill="none"/>
<path d="M2485.8 2719.2L1885.6 3225" stroke="#000" stroke-width="3" fill="none"/>
<path d="M2386.1 2665.6L2411.4 2644.8L2418.9 2643.3L2479.9 2647.7L2482.9 2662.6L2465 2680.5L2503.7 2662.6L2506.7 2649.2L2566.2 2638.8L2594.5 2695.4L2594.5 2711.7L2640.6 2814.4C2645.1 2822.3 2661.2 2850.6 2667.4 2862C2673.6 2873.4 2676.1 2879.4 2677.8 2882.9C2679 2886.8 2682 2880.9 2685.2 2906.7C2688.5 2932.5 2695.2 3015.8 2697.1 3037.6L2691.2 3061.4L2649.5 3088.2L2631.7 3089.7L2598.9 3122.4L2548.3 3112L2537.9 3085.2L2512.6 3079.3L2511.1 3064.4L2491.8 3049.5L2493.3 3028.7L2505.2 3019.8L2445.7 2960.2L2445.7 2930.5L2450.1 2918.6L2408.5 2763.8L2408.5 2751.9L2414.4 2746L2386.1 2665.6Z" stroke="#000" stroke-width="3" fill="none"/>
<path d="M2395.1 2668.6L2420.4 2751.9L2417.4 2757.9L2457.6 2918.6L2454.6 2960.2L2506.7 3016.8" stroke="#000" stroke-width="2.2" fill="none"/>
<path d="M2411.4 2646.2L2429.3 2713.2" stroke="#000" stroke-width="2.2" fill="none"/>
<path d="M2435.2 2710.2L2491.8 2912.6C2490.8 2915.1 2483.4 2920.1 2485.8 2927.5C2488.3 2934.9 2497.2 2947.8 2506.7 2957.3C2516.1 2966.7 2530.5 2977.6 2542.4 2984C2554.3 2990.5 2566.2 2994.5 2578.1 2996C2590 2997.4 2603.4 2996 2613.8 2993C2624.2 2990 2633.7 2985.5 2640.6 2978.1C2647.5 2970.7 2652.3 2959.2 2655.5 2948.3C2658.7 2937.4 2660.4 2924.5 2659.9 2912.6C2659.4 2900.7 2656.7 2888.3 2652.5 2876.9C2648.3 2865.5 2642.1 2854.6 2634.6 2844.2C2627.2 2833.8 2614.6 2821.3 2607.9 2814.4C2601.2 2807.5 2596.7 2804.5 2594.5 2802.5L2575.1 2757.9L2575.1 2746L2545.4 2668.6" stroke="#000" stroke-width="2.8" fill="none"/>
<path d="M2485.8 2915.6C2489.3 2920.6 2499.2 2936.4 2506.7 2945.4C2514.1 2954.3 2520.6 2962.7 2530.5 2969.2C2540.4 2975.6 2555.3 2981.3 2566.2 2984C2577.1 2986.8 2586 2987 2596 2985.5C2605.9 2984 2617.8 2980.3 2625.7 2975.1C2633.7 2969.9 2639.1 2963.2 2643.6 2954.3C2648 2945.4 2651.5 2932.5 2652.5 2921.5C2653.5 2910.6 2652.5 2900.2 2649.5 2888.8C2646.5 2877.4 2640.6 2863.5 2634.6 2853.1C2628.7 2842.7 2619.3 2834.2 2613.8 2826.3C2608.4 2818.4 2603.9 2808.9 2601.9 2805.5" stroke="#000" stroke-width="2.2" fill="none"/>
<path d="M2426.3 2674.5L2432.3 2707.3L2471 2915.6L2468 2945.4L2484.3 2933.5" stroke="#000" stroke-width="2.2" fill="none"/>
<path d="M2554.3 2650.7L2578.1 2704.3L2575.1 2746" stroke="#000" stroke-width="2.2" fill="none"/>
<path d="M2637.6 2814.4L2676.3 2885.8L2685.2 3037.6" stroke="#000" stroke-width="2" fill="none"/>
<path d="M2418.9 2656.7L2456.1 2659.6L2459 2674.5L2429.3 2677.5L2418.9 2656.7Z" stroke="#000" stroke-width="2.4" fill="none"/>
<path d="M2459 2683.5L2482.9 2668.6L2506.7 2665.6L2506.7 2680.5" stroke="#000" stroke-width="2.4" fill="none"/>
<path d="M2471 2698.3L2471 2720.7L2488.8 2719.2" stroke="#000" stroke-width="2.4" fill="none"/>
<path d="M2506.7 2656.7L2548.3 2652.2L2554.3 2668.6L2530.5 2671.5L2506.7 2656.7Z" stroke="#000" stroke-width="2.4" fill="none"/>
<path d="M2524.5 2716.2L2548.3 2713.2L2545.4 2695.4" stroke="#000" stroke-width="2.4" fill="none"/>
<ellipse cx="2509.6" cy="2702.8" rx="16.4" ry="23.2" transform="rotate(-15 2509.6 2702.8)" stroke="#000" stroke-width="3" fill="none"/>
<ellipse cx="2511.1" cy="2701.9" rx="11.9" ry="17.9" transform="rotate(-15 2511.1 2701.9)" stroke="#000" stroke-width="2.4" fill="none"/>
<path d="M2505.2 3019.8L2596 3049.5L2616.8 3022.7L2655.5 3034.6" stroke="#000" stroke-width="2.4" fill="none"/>
<path d="M2533.5 2996L2658.5 3031.7L2679.3 3037.6" stroke="#000" stroke-width="2.4" fill="none"/>
<path d="M2512.6 3064.4L2643.6 3088.2" stroke="#000" stroke-width="2.4" fill="none"/>
<path d="M2536.4 3028.7L2548.3 3028.7L2548.3 3037.6L2536.4 3046.5L2536.4 3028.7Z" stroke="#000" stroke-width="2.2" fill="none"/>
<path d="M2539.4 3082.3L2548.3 3109L2596 3118L2628.7 3091.2" stroke="#000" stroke-width="2.4" fill="none"/>
<path d="M2569.2 3082.3L2578.1 3094.2L2613.8 3097.1" stroke="#000" stroke-width="2.2" fill="none"/>
<path d="M2575.1 3094.2L2587 3079.3" stroke="#000" stroke-width="2.2" fill="none"/>
<path d="M2587 3095.7L2598.9 3082.3" stroke="#000" stroke-width="2.2" fill="none"/>
<path d="M2518.6 3049.5L2530.5 3064.4" stroke="#000" stroke-width="2.2" fill="none"/>
<path d="M2524.5 3046.5L2536.4 3061.4" stroke="#000" stroke-width="2.2" fill="none"/>
<path d="M2667.4 2885.8L2676.3 2882.9L2682.3 2900.7L2673.3 2912.6" stroke="#000" stroke-width="2.2" fill="none"/>
<path d="M1843.4 3259.3L1797 3299.6" stroke="#000" stroke-width="3" fill="none"/>
<path d="M1617.1 3315.1L1645.9 3290.6L1660.8 3292.3C1661 3293.8 1663.9 3299.2 1662.3 3301.3C1660.7 3303.4 1653.8 3303.8 1651.2 3305.1C1648.7 3306.5 1647 3308.2 1647 3309.4C1647 3310.6 1648 3312.4 1651.2 3312.4C1654.4 3312.4 1660.3 3312.1 1666.1 3309.4C1672 3306.6 1683 3298.2 1686.3 3296L1701.2 3296L1706.6 3318.3L1719.3 3316.2L1736.4 3294.9L1750.2 3292.8L1760 3301.3" stroke="#000" stroke-width="3" fill="none"/>
<path d="M1617.1 3315.1L1629.9 3317.9L1634.2 3320.9L1674.6 3318.7L1701.2 3296.6" stroke="#000" stroke-width="2.6" fill="none"/>
<path d="M1619.3 3316.2L1625.7 3337.5" stroke="#000" stroke-width="2.6" fill="none"/>
<path d="M1629.9 3317.9L1643.8 3364.1" stroke="#000" stroke-width="2.6" fill="none"/>
<path d="M1660.8 3320.4L1667.2 3341.7" stroke="#000" stroke-width="2.6" fill="none"/>
<path d="M1674.6 3318.7L1686.3 3365.2" stroke="#000" stroke-width="2.6" fill="none"/>
<path d="M1706.6 3318.3L1719.3 3341.7L1732.1 3360.9" stroke="#000" stroke-width="2.6" fill="none"/>
<path d="M1606.5 3354.5L1623.5 3340.7L1633.1 3339.2" stroke="#000" stroke-width="2.6" fill="none"/>
<path d="M1606.5 3354.5L1599.1 3389.6" stroke="#000" stroke-width="3" fill="none"/>
<path d="M1612.9 3351.3L1609.7 3388.6" stroke="#000" stroke-width="2.4" fill="none"/>
<path d="M1619.3 3348.1L1625.7 3343.9" stroke="#000" stroke-width="2.2" fill="none"/>
<path d="M1666.1 3350.3L1674.6 3343.9" stroke="#000" stroke-width="2.2" fill="none"/>
<path d="M1708.7 3356.6L1719.3 3348.1" stroke="#000" stroke-width="2.2" fill="none"/>
<path d="M1644.8 3365.2L1651.2 3358.8L1676.8 3343.9L1685.3 3343.9" stroke="#000" stroke-width="2.6" fill="none"/>
<path d="M1644.8 3365.2L1644.8 3392.8" stroke="#000" stroke-width="2.6" fill="none"/>
<path d="M1652.3 3359.8L1653.3 3390.7" stroke="#000" stroke-width="2.2" fill="none"/>
<path d="M1681 3343.9L1715.1 3343.9L1723.6 3341.7" stroke="#000" stroke-width="2.6" fill="none"/>
<path d="M1693.8 3365.2L1702.3 3358.8L1708.7 3356.6" stroke="#000" stroke-width="2.6" fill="none"/>
<path d="M1700.2 3360.9L1701.2 3392.8" stroke="#000" stroke-width="2.6" fill="none"/>
<path d="M1706.6 3357.7L1706.6 3386.4" stroke="#000" stroke-width="2.2" fill="none"/>
<path d="M1740.6 3353.4L1741.7 3385.4" stroke="#000" stroke-width="2.6" fill="none"/>
<path d="M1749.1 3350.3L1749.1 3384.3" stroke="#000" stroke-width="2.2" fill="none"/>
<path d="M1599.1 3389.6L1612.9 3391.1L1647 3395L1678.9 3397.5L1698 3395L1749.1 3384.3L1760 3382.6" stroke="#000" stroke-width="3" fill="none"/>
<path d="M1612.9 3390.7L1647 3367.3" stroke="#000" stroke-width="2.4" fill="none"/>
<path d="M1657.6 3395L1687.4 3371.5" stroke="#000" stroke-width="2.4" fill="none"/>
<path d="M1681 3397.1L1738.5 3358.8" stroke="#000" stroke-width="2.4" fill="none"/>
<path d="M1747 3386.4L1760 3416.3" stroke="#000" stroke-width="2.6" fill="none"/>
<path d="M1599.1 3389.6L1618.2 3456.7L1647 3467.3L1632.1 3479.1" stroke="#000" stroke-width="3" fill="none"/>
<path d="M1647 3467.3C1650.1 3464.2 1660.1 3453 1666.1 3448.2C1672.1 3443.4 1680.3 3440.2 1683.1 3438.6L1719.3 3433.3L1760 3426.9" stroke="#000" stroke-width="2.6" fill="none"/>
<path d="M1647 3471.6C1650.5 3469.5 1662.6 3461.3 1668.2 3458.8C1673.9 3456.3 1672.5 3457.6 1681 3456.7C1689.5 3455.8 1713 3454 1719.3 3453.5L1723.6 3465.2L1738.5 3462L1740.6 3437.5" stroke="#000" stroke-width="2.6" fill="none"/>
<path d="M1720.4 3453.5L1721.5 3503.5L1717.2 3535.5" stroke="#000" stroke-width="2.6" fill="none"/>
<path d="M1629.9 3480.1C1632.4 3479.9 1637 3478.7 1644.8 3479.1C1652.6 3479.4 1664.3 3479.9 1676.8 3482.2C1689.2 3484.6 1705.5 3492 1719.3 3492.9C1733.2 3493.8 1753.2 3488.5 1760 3487.6" stroke="#000" stroke-width="2.6" fill="none"/>
<path d="M1649.1 3492.9C1653.7 3493.6 1665.1 3495.4 1676.8 3497.1C1688.5 3498.9 1712.2 3502.5 1719.3 3503.5" stroke="#000" stroke-width="2.2" fill="none"/>
<path d="M1485.2 3533.3C1488 3529.4 1495.1 3516.7 1502.2 3509.9C1509.3 3503.2 1519.9 3496.6 1527.7 3492.9C1535.5 3489.2 1543.3 3488.1 1549 3487.6C1554.7 3487 1555.4 3488.1 1561.8 3489.7C1568.2 3491.3 1583.1 3495.9 1587.3 3497.1L1602.2 3487.6L1629.9 3480.1" stroke="#000" stroke-width="3.2" fill="none"/>
<path d="M1489.4 3530.8C1492.3 3527.4 1499.3 3516.2 1506.4 3510.3C1513.5 3504.5 1522.8 3498.5 1532 3495.4C1541.2 3492.4 1556.8 3492.4 1561.8 3491.8" stroke="#000" stroke-width="2.2" fill="none"/>
<path d="M1532 3514.2L1549 3542.9" stroke="#000" stroke-width="2.6" fill="none"/>
<path d="M1527.7 3514.2L1561.8 3499.3" stroke="#000" stroke-width="2.6" fill="none"/>
<path d="M1525.6 3516.3L1495.8 3531.2" stroke="#000" stroke-width="2.6" fill="none"/>
<path d="M1553.7 3512.1L1555.4 3548.2" stroke="#000" stroke-width="2.6" fill="none"/>
<path d="M1595.9 3509.9L1596.9 3556.8" stroke="#000" stroke-width="2.6" fill="none"/>
<path d="M1555.4 3546.1C1557.9 3547.7 1563.4 3553.8 1570.3 3555.7C1577.2 3557.5 1592.5 3556.9 1596.9 3557.2" stroke="#000" stroke-width="2.6" fill="none"/>
<ellipse cx="1574.1" cy="3508.9" rx="21.3" ry="11.7" transform="rotate(-5 1574.1 3508.9)" stroke="#000" stroke-width="2.8" fill="#fff"/>
<ellipse cx="1573.5" cy="3508.9" rx="10.2" ry="5.5" transform="rotate(-5 1573.5 3508.9)" stroke="#000" stroke-width="2.6" fill="none"/>
<ellipse cx="1632.1" cy="3518.4" rx="29.8" ry="36.2" transform="rotate(15 1632.1 3518.4)" stroke="#000" stroke-width="2.8" fill="none"/>
<ellipse cx="1633.1" cy="3524.4" rx="20.4" ry="28.1" transform="rotate(15 1633.1 3524.4)" stroke="#000" stroke-width="2.6" fill="none"/>
<ellipse cx="1630.3" cy="3524.8" rx="15.3" ry="23.8" transform="rotate(15 1630.3 3524.8)" stroke="#000" stroke-width="2.6" fill="none"/>
<ellipse cx="1626.1" cy="3524.8" rx="8.9" ry="17.5" transform="rotate(15 1626.1 3524.8)" stroke="#000" stroke-width="3.5" fill="none"/>
<ellipse cx="1623.5" cy="3524.8" rx="4.7" ry="11.7" transform="rotate(15 1623.5 3524.8)" stroke="#000" stroke-width="4" fill="none"/>
<path d="M1651.2 3490.8L1683.1 3544L1693.8 3546.1" stroke="#000" stroke-width="2.6" fill="none"/>
<path d="M1654.4 3516.3L1715.1 3522.7" stroke="#000" stroke-width="2.4" fill="none"/>
<ellipse cx="1476.6" cy="3579.1" rx="19.6" ry="23.4" transform="rotate(-20 1476.6 3579.1)" stroke="#000" stroke-width="3.5" fill="#fff"/>
<ellipse cx="1474.5" cy="3580.2" rx="14.9" ry="18.7" transform="rotate(-20 1474.5 3580.2)" stroke="#000" stroke-width="2.4" fill="none"/>
<path d="M1463.9 3582.3L1470.3 3575.9L1478.8 3580.2L1476.6 3588.7L1468.1 3590.8L1463.9 3582.3Z" stroke="#000" stroke-width="2.6" fill="none"/>
<path d="M1515 3550.4L1600.1 3593" stroke="#000" stroke-width="2.6" fill="none"/>
<path d="M1512.8 3556.8L1595.9 3599.3" stroke="#000" stroke-width="2.6" fill="none"/>
<path d="M1519.2 3546.1L1604.4 3588.7" stroke="#000" stroke-width="2.4" fill="none"/>
<path d="M1502.2 3571.7L1521.3 3561" stroke="#000" stroke-width="2.4" fill="none"/>
<path d="M1459.6 3556.8L1485.2 3535.5" stroke="#000" stroke-width="2.6" fill="none"/>
<path d="M1510.7 3548.2C1511.4 3549.7 1516.7 3553.2 1515 3556.8C1513.2 3560.3 1502.5 3567.4 1500.1 3569.5" stroke="#000" stroke-width="2.4" fill="none"/>
<path d="M1638.4 3569.5L1683.1 3552.5L1693.8 3556.8" stroke="#000" stroke-width="2.4" fill="none"/>
<ellipse cx="1702.3" cy="3586.6" rx="14.9" ry="8.1" transform="rotate(-5 1702.3 3586.6)" stroke="#000" stroke-width="2.6" fill="none"/>
<ellipse cx="1702.3" cy="3587" rx="8.9" ry="4.3" transform="rotate(-5 1702.3 3587)" stroke="#000" stroke-width="2.4" fill="none"/>
<path d="M1659.7 3599.3L1683.1 3575.9L1725.7 3578L1740.6 3582.3" stroke="#000" stroke-width="2.6" fill="none"/>
<ellipse cx="1749.1" cy="3507.8" rx="6.4" ry="8.5" transform="rotate(0 1749.1 3507.8)" stroke="#000" stroke-width="2.6" fill="none"/>
<ellipse cx="1738.5" cy="3556.8" rx="9.6" ry="11.7" transform="rotate(0 1738.5 3556.8)" stroke="#000" stroke-width="2.6" fill="none"/>
<path d="M1715.1 3544C1717.6 3542.6 1725 3536.5 1730 3535.5C1734.9 3534.4 1741 3535.5 1744.9 3537.6C1748.8 3539.7 1752 3546.5 1753.4 3548.2" stroke="#000" stroke-width="2.4" fill="none"/>
<path d="M1715.1 3544C1714.7 3546.8 1712.2 3555.3 1713 3561C1713.7 3566.7 1718.3 3575.2 1719.3 3578" stroke="#000" stroke-width="2.4" fill="none"/>
<path d="M1719.2 3317.3L1735.1 3294.9L1750 3293.2L1753.2 3301.3C1750.4 3302.2 1739.4 3305.2 1736.2 3306.6C1733 3308 1733.7 3308.8 1734.1 3309.8C1734.4 3310.8 1734.8 3312.5 1738.3 3312.4C1741.9 3312.2 1752.5 3309.3 1755.4 3308.7L1772.4 3290.2L1786.2 3288.1L1796.9 3307.7L1805.4 3311.9L1817.1 3338.5L1815.4 3386.4L1822.4 3416.3" stroke="#000" stroke-width="3" fill="none"/>
<path d="M1700 3322.6L1719.2 3317.3L1757.5 3310.9" stroke="#000" stroke-width="2.6" fill="none"/>
<path d="M1721.3 3318.3L1738.3 3365.2L1739.4 3384.3" stroke="#000" stroke-width="2.6" fill="none"/>
<path d="M1745.8 3314.1L1763.9 3337.5L1770.3 3337.5" stroke="#000" stroke-width="2.6" fill="none"/>
<path d="M1738.3 3343.9C1738 3342.4 1735.8 3337.3 1736.2 3335.4C1736.5 3333.4 1738.7 3332.3 1740.4 3332.2C1742.2 3332 1745.8 3333.9 1746.8 3334.3" stroke="#000" stroke-width="2.4" fill="none"/>
<path d="M1751.1 3335.4L1768.1 3329" stroke="#000" stroke-width="2.4" fill="none"/>
<path d="M1746.8 3352.4L1747.9 3382.2" stroke="#000" stroke-width="2.6" fill="none"/>
<path d="M1704.3 3356.6L1706.4 3386.4" stroke="#000" stroke-width="2.6" fill="none"/>
<path d="M1700 3391.8L1751.1 3383.3" stroke="#000" stroke-width="2.6" fill="none"/>
<path d="M1738.3 3365.2L1700 3390.7" stroke="#000" stroke-width="2.4" fill="none"/>
<path d="M1700 3341.7L1721.3 3343.9L1708.5 3352.4" stroke="#000" stroke-width="2.4" fill="none"/>
<path d="M1749 3382.2L1766 3424.8" stroke="#000" stroke-width="2.6" fill="none"/>
<path d="M1783 3392.8L1784.1 3426.9" stroke="#000" stroke-width="2.6" fill="none"/>
<path d="M1816 3392.8L1821.3 3429" stroke="#000" stroke-width="2.6" fill="none"/>
<path d="M1784.1 3426.9C1786.8 3428.7 1793.9 3437 1800.1 3438C1806.2 3439 1817.4 3433.7 1820.9 3432.9" stroke="#000" stroke-width="2.6" fill="none"/>
<ellipse cx="1799.2" cy="3392.8" rx="16.6" ry="9.6" transform="rotate(0 1799.2 3392.8)" stroke="#000" stroke-width="2.8" fill="#fff"/>
<ellipse cx="1799.2" cy="3393.9" rx="8.9" ry="4.3" transform="rotate(0 1799.2 3393.9)" stroke="#000" stroke-width="2.6" fill="none"/>
<path d="M1944.8 3399.2L1947 3437.5" stroke="#000" stroke-width="2.6" fill="none"/>
<path d="M1980 3399.2L1983.1 3437.5" stroke="#000" stroke-width="2.6" fill="none"/>
<path d="M1947 3437.5C1949.8 3438.7 1958 3444.3 1964 3444.4C1970 3444.4 1980 3439 1983.1 3438" stroke="#000" stroke-width="2.6" fill="none"/>
<ellipse cx="1962.3" cy="3399.2" rx="18.1" ry="9.6" transform="rotate(0 1962.3 3399.2)" stroke="#000" stroke-width="2.8" fill="#fff"/>
<ellipse cx="1962.3" cy="3399.6" rx="10.6" ry="4.7" transform="rotate(0 1962.3 3399.6)" stroke="#000" stroke-width="2.6" fill="none"/>
<ellipse cx="1884.2" cy="3430.1" rx="53.2" ry="29.8" transform="rotate(-3 1884.2 3430.1)" stroke="#000" stroke-width="2.6" fill="none"/>
<ellipse cx="1884.4" cy="3431.6" rx="48.5" ry="25.5" transform="rotate(-3 1884.4 3431.6)" stroke="#000" stroke-width="2.4" fill="none"/>
<ellipse cx="1885.2" cy="3438" rx="42.6" ry="22.6" transform="rotate(-3 1885.2 3438)" stroke="#000" stroke-width="3" fill="none"/>
<ellipse cx="1885.6" cy="3439.2" rx="39.6" ry="20" transform="rotate(-3 1885.6 3439.2)" stroke="#000" stroke-width="2.4" fill="none"/>
<path d="M1983.1 3426.9C1984.2 3427.7 1988.3 3427 1989.5 3431.6C1990.8 3436.2 1990.6 3450.7 1990.8 3454.6C1989.5 3456.1 1992.6 3460.2 1983.1 3463.5C1973.7 3466.8 1942.3 3472.4 1934.2 3474.2C1932.1 3475.5 1924.6 3480.2 1921.4 3482.2C1918.2 3484.3 1916.1 3485.8 1915 3486.5" stroke="#000" stroke-width="2.8" fill="none"/>
<path d="M1823.1 3418.4C1824.5 3418.6 1827.7 3421.3 1832 3419.7C1836.3 3418.1 1846.2 3410.6 1849 3408.8" stroke="#000" stroke-width="2.6" fill="none"/>
<path d="M1823.5 3441.8C1824.2 3443.2 1825.3 3446.1 1827.7 3450.3C1830.2 3454.6 1832.7 3462 1838.4 3467.3C1844.1 3472.7 1849.7 3479.8 1861.8 3482.2C1873.9 3484.7 1902.6 3482.2 1910.8 3482.2" stroke="#000" stroke-width="2.6" fill="none"/>
<path d="M1985.3 3429L1990.6 3433.3" stroke="#000" stroke-width="2.4" fill="none"/>
<path d="M1700 3433.3L1780.9 3420.5" stroke="#000" stroke-width="2.8" fill="none"/>
<path d="M1700 3448.2L1742.6 3440.7" stroke="#000" stroke-width="2.6" fill="none"/>
<path d="M1721.3 3454.6L1738.3 3446.1" stroke="#000" stroke-width="2.6" fill="none"/>
<path d="M1745.8 3441.8L1785.2 3426.9" stroke="#000" stroke-width="2.6" fill="none"/>
<path d="M1721.3 3454.6L1723.4 3535.5" stroke="#000" stroke-width="2.8" fill="none"/>
<path d="M1738.3 3446.1L1763.9 3482.2L1768.1 3575.9" stroke="#000" stroke-width="2.8" fill="none"/>
<path d="M1783 3424.8L1806.4 3471.6L1810.7 3535.5" stroke="#000" stroke-width="2.6" fill="none"/>
<ellipse cx="1769.2" cy="3457.8" rx="8.5" ry="11.9" transform="rotate(0 1769.2 3457.8)" stroke="#000" stroke-width="2.6" fill="none"/>
<ellipse cx="1751.1" cy="3507.8" rx="7.5" ry="8.9" transform="rotate(0 1751.1 3507.8)" stroke="#000" stroke-width="2.6" fill="none"/>
<ellipse cx="1738.3" cy="3558.9" rx="9.6" ry="11.9" transform="rotate(0 1738.3 3558.9)" stroke="#000" stroke-width="2.8" fill="none"/>
<path d="M1731.9 3535.5C1729.5 3536.5 1719.9 3537.2 1717 3541.9C1714.2 3546.5 1713.5 3557.5 1714.9 3563.1C1716.3 3568.8 1717.7 3574.1 1725.5 3575.9C1733.4 3577.7 1755.7 3574.1 1761.7 3573.8" stroke="#000" stroke-width="2.6" fill="none"/>
<path d="M1776.6 3486.5L1778.8 3575.9" stroke="#000" stroke-width="2.6" fill="none"/>
<path d="M1785.2 3486.5L1787.3 3575.9" stroke="#000" stroke-width="2.6" fill="none"/>
<path d="M1783 3484.4L1812.8 3578" stroke="#000" stroke-width="2.6" fill="none"/>
<path d="M1909.7 3463.1L1912.9 3482.2L1921.4 3509.9L1925.7 3599.3" stroke="#000" stroke-width="2.6" fill="none"/>
<path d="M1915 3463.1L1918.2 3482.2L1927.8 3514.2L1933.1 3599.3" stroke="#000" stroke-width="2.6" fill="none"/>
<path d="M1938.4 3473.7C1939.1 3479.1 1942.7 3497.1 1942.7 3505.7C1942.7 3514.2 1938.6 3519.9 1938.4 3524.8C1938.3 3529.8 1943.1 3530.9 1941.6 3535.5C1940.2 3540.1 1931.9 3549.7 1929.9 3552.5" stroke="#000" stroke-width="2.6" fill="none"/>
<path d="M1806.4 3471.6L1836.3 3471.6L1840.5 3514.2" stroke="#000" stroke-width="2.6" fill="none"/>
<path d="M1819.2 3486.5C1820.6 3487.6 1825.6 3490.1 1827.7 3492.9C1829.9 3495.7 1832 3500 1832 3503.5C1832 3507.1 1829.9 3511.7 1827.7 3514.2C1825.6 3516.7 1820.6 3517.7 1819.2 3518.4" stroke="#000" stroke-width="2.4" fill="none"/>
<path d="M1810.7 3503.5C1813.5 3507.1 1823.1 3522 1827.7 3524.8C1832.3 3527.7 1836.6 3521.3 1838.4 3520.6" stroke="#000" stroke-width="2.4" fill="none"/>
<path d="M1863.9 3484.4C1867.5 3485.1 1879.9 3486.2 1885.2 3488.6C1890.5 3491.1 1893.4 3495 1895.9 3499.3C1898.3 3503.5 1900.1 3510.6 1900.1 3514.2C1900.1 3517.7 1896.6 3519.5 1895.9 3520.6" stroke="#000" stroke-width="2.6" fill="none"/>
<path d="M1861.8 3480.1C1866.1 3481 1881.1 3482.6 1887.3 3485.4C1893.6 3488.3 1896.4 3492.4 1899.1 3497.1C1901.7 3501.9 1902.6 3511.3 1903.3 3514.2" stroke="#000" stroke-width="2.2" fill="none"/>
<path d="M1802.2 3541.9L1872.4 3533.3L1887.3 3541.9L1891.6 3567.4L1902.2 3586.6L1910.8 3599.3" stroke="#000" stroke-width="2.6" fill="none"/>
<path d="M1806.4 3548.2L1838.4 3556.8" stroke="#000" stroke-width="2.4" fill="none"/>
<path d="M1810.7 3578L1872.4 3533.3" stroke="#000" stroke-width="2.6" fill="none"/>
<path d="M1891.6 3544L1902.2 3548.2L1900.1 3578" stroke="#000" stroke-width="2.4" fill="none"/>
<path d="M1800.1 3599.3C1802.9 3596.5 1811.8 3582.3 1817.1 3582.3C1822.4 3582.3 1829.5 3596.5 1832 3599.3" stroke="#000" stroke-width="2.6" fill="none"/>
<path d="M1870.3 3599.3C1873.9 3597.2 1885.2 3587.3 1891.6 3586.6C1898 3585.9 1905.8 3593.7 1908.6 3595.1" stroke="#000" stroke-width="2.6" fill="none"/>
<path d="M1761.7 3573.8L1806.4 3582.3" stroke="#000" stroke-width="2.4" fill="none"/>
<path d="M2091 3391.2L1857.5 3456.7" stroke="#000" stroke-width="2.6" fill="none"/>
<path d="M1803.1 3470.8L1645.9 3516" stroke="#000" stroke-width="2.6" fill="none"/>
<path d="M2107.3 3451.8L1740.5 3558.9" stroke="#000" stroke-width="2.6" fill="none"/>
<path d="M1406.6 3630L1416.2 3621.5L1516.3 3647.7C1517.7 3648.7 1523 3645.6 1524.8 3653.4C1526.5 3661.3 1526.5 3688 1526.9 3695L1533.7 3701.3L1591.2 3731.6C1592.2 3732.6 1595.8 3732.7 1597.1 3738C1598.5 3743.2 1598.9 3758.9 1599.3 3763.1L1606.1 3771.6" stroke="#000" stroke-width="3" fill="none"/>
<path d="M1406.6 3630C1406.8 3633 1405.9 3624.9 1407.7 3648.1C1409.5 3671.4 1415.7 3749.2 1417.3 3769.5C1418.1 3771.2 1411.8 3766.6 1422.6 3780.1C1433.4 3793.6 1472.3 3838.7 1482.2 3850.4L1592.9 3882.3C1594.3 3882.3 1598.2 3884.4 1601.4 3882.3C1604.6 3880.2 1610.3 3871.7 1612.1 3869.5L1607.8 3782.2" stroke="#000" stroke-width="3.2" fill="none"/>
<path d="M1414.1 3629.4L1505.6 3654.5C1507 3655.6 1512.3 3653.4 1514.1 3660.9C1515.9 3668.4 1515.9 3692.8 1516.3 3699.2C1518 3700.6 1515.5 3701.3 1526.9 3707.7C1538.2 3714.1 1574.8 3732.6 1584.4 3737.5C1585.4 3739.7 1589.3 3744.6 1590.8 3750.3C1592.2 3756 1592.5 3768.1 1592.9 3771.6L1601.4 3780.1" stroke="#000" stroke-width="4" fill="none"/>
<path d="M1605.7 3775.9L1652.5 3739.7" stroke="#000" stroke-width="2.6" fill="none"/>
<path d="M1605.7 3778L1616.3 3858.9" stroke="#000" stroke-width="2.6" fill="none"/>
<path d="M1597.1 3788.6L1603.5 3875.9" stroke="#000" stroke-width="2.6" fill="none"/>
<path d="M1614.2 3858.9L1650.4 3833.3L1740 3756.7" stroke="#000" stroke-width="2.6" fill="none"/>
<path d="M1650.4 3833.3L1644 3754.6" stroke="#000" stroke-width="2.4" fill="none"/>
<path d="M1658.9 3822.7L1675.9 3756.7" stroke="#000" stroke-width="2.6" fill="none"/>
<path d="M1646.1 3782.2L1656.8 3771.6" stroke="#000" stroke-width="2.2" fill="none"/>
<path d="M1654.6 3712C1657.8 3709.2 1667.4 3697.1 1673.8 3695C1680.2 3692.8 1688 3695 1693 3699.2C1697.9 3703.5 1702.5 3714.8 1703.6 3720.5C1704.7 3726.2 1702.9 3728.3 1699.3 3733.3C1695.8 3738.2 1685.1 3747.5 1682.3 3750.3" stroke="#000" stroke-width="2.6" fill="none"/>
<ellipse cx="1657.8" cy="3741.8" rx="20.2" ry="23.4" transform="rotate(-20 1657.8 3741.8)" stroke="#000" stroke-width="3.2" fill="#fff"/>
<ellipse cx="1655.7" cy="3742.9" rx="15.3" ry="18.7" transform="rotate(-20 1655.7 3742.9)" stroke="#000" stroke-width="2.4" fill="none"/>
<path d="M1644 3741.8L1649.3 3736.5L1656.8 3741.8L1654.6 3750.3L1647.2 3751.4L1644 3741.8Z" stroke="#000" stroke-width="2.6" fill="none"/>
<path d="M1521.6 3863.1L1524.8 3895.1C1526.2 3896.1 1529 3899 1533.3 3901.5C1537.5 3904 1547.5 3908.6 1550.3 3910L1551.4 3916.4L1571.6 3917.4L1572.7 3920.6C1578.2 3921.3 1595.9 3925.6 1605.7 3924.9C1615.4 3924.2 1627 3917.8 1631.2 3916.4L1635.5 3910L1633.3 3850.4" stroke="#000" stroke-width="3" fill="none"/>
<path d="M1545 3873.8L1550.3 3910" stroke="#000" stroke-width="2.6" fill="none"/>
<path d="M1567.3 3878L1571.6 3916.4" stroke="#000" stroke-width="2.6" fill="none"/>
<ellipse cx="1561" cy="3888.7" rx="3.8" ry="9.6" transform="rotate(-5 1561 3888.7)" stroke="#000" stroke-width="4" fill="none"/>
<path d="M1628 3852.5L1637.6 3912.1" stroke="#000" stroke-width="2.4" fill="none"/>
<path d="M1631.2 3852.5L1640.8 3911" stroke="#000" stroke-width="2.4" fill="none"/>
<path d="M1495 3597L1514.1 3584.3L1571.6 3611.9L1584.4 3626.8L1605.7 3677.9L1652.5 3709.9" stroke="#000" stroke-width="3" fill="none"/>
<path d="M1541.8 3580L1595 3592.8L1612.1 3607.7L1627 3650.3L1639.7 3677.9" stroke="#000" stroke-width="2.6" fill="none"/>
<path d="M1563.1 3580L1599.3 3588.5L1616.3 3603.4L1635.5 3643.9L1648.2 3673.7" stroke="#000" stroke-width="2.6" fill="none"/>
<path d="M1567.3 3580L1602.5 3589.6L1619.5 3603.8L1638.7 3643.9" stroke="#000" stroke-width="2.2" fill="none"/>
<path d="M1618.4 3609.8L1658.9 3620.4L1663.1 3622.6" stroke="#000" stroke-width="2.6" fill="none"/>
<path d="M1561 3637.5L1575.9 3629L1592.9 3665.2L1592.9 3669.4L1565.2 3652.4L1561 3637.5Z" stroke="#000" stroke-width="2.6" fill="none"/>
<path d="M1491.8 3603.4L1503.5 3622.6L1516.3 3627.3L1541.8 3607.7" stroke="#000" stroke-width="2.6" fill="none"/>
<path d="M1603.5 3686.4L1654.6 3709.9" stroke="#000" stroke-width="2.6" fill="none"/>
<path d="M1426.8 3621.5L1465.2 3594.9" stroke="#000" stroke-width="2.6" fill="none"/>
<path d="M1441.7 3622.6L1488.6 3597" stroke="#000" stroke-width="2.6" fill="none"/>
<path d="M1454.5 3627.9L1492.8 3600.2" stroke="#000" stroke-width="2.6" fill="none"/>
<ellipse cx="1475.8" cy="3586.4" rx="17" ry="14.9" transform="rotate(0 1475.8 3586.4)" stroke="#000" stroke-width="2.8" fill="none"/>
<path d="M1658.9 3592.8L1661 3620.4L1703.6 3605.5" stroke="#000" stroke-width="2.6" fill="none"/>
<ellipse cx="1701.5" cy="3589.6" rx="14.9" ry="6.4" transform="rotate(0 1701.5 3589.6)" stroke="#000" stroke-width="2.8" fill="none"/>
<path d="M1703.6 3607.7L1712.1 3707.7" stroke="#000" stroke-width="2.6" fill="none"/>
<path d="M1710 3716.3L1740 3688.6" stroke="#000" stroke-width="5" fill="none"/>
<path d="M1641.9 3622.6L1665.3 3677.9" stroke="#000" stroke-width="2.6" fill="none"/>
<path d="M1667.4 3629L1673.8 3690.7" stroke="#000" stroke-width="2.6" fill="none"/>
<path d="M1684.4 3633.2L1686.6 3690.7" stroke="#000" stroke-width="2.6" fill="none"/>
<path d="M1450.9 3675.9L1454.1 3674.3L1589.2 3843L1577.5 3844.8L1446.6 3682.8L1450.9 3675.9Z" fill="#000"/>
<path d="M1453.2 3680.1L1581.8 3840.3" stroke="#fff" stroke-width="1.6" fill="none"/>
<path d="M1427.5 3686L1430.6 3683L1446.6 3680.6L1450.9 3683.8L1446.6 3691.3L1442.4 3693.6L1442.9 3704.1L1450.9 3714.7L1454.1 3712.6L1453 3705.1L1457.3 3705.7L1471.1 3712.6L1468.4 3708.3L1427.5 3686Z" stroke="#000" stroke-width="3.2" fill="#fff"/>
<path d="M1454.1 3719L1457.3 3716.8L1471.1 3715.8L1474.3 3720L1464.7 3725.4L1460.4 3725.4L1454.1 3719Z" stroke="#000" stroke-width="3.2" fill="#fff"/>
<path d="M1460.4 3725.4L1477.5 3724.8L1500.9 3743.4L1475.4 3745L1460.4 3725.4Z" fill="#000"/>
<path d="M1479.6 3749.3L1497.7 3747.2L1506.2 3758.4L1488.1 3760.5L1479.6 3749.3Z" stroke="#000" stroke-width="3.2" fill="#fff"/>
<path d="M1492.4 3765.3L1508.4 3763.7L1522.2 3781.8L1513.7 3783.9L1509.4 3776.4L1500.9 3777L1492.4 3765.3Z" stroke="#000" stroke-width="3.2" fill="#fff"/>
<path d="M1507.3 3783.9L1526.4 3781.2L1538.2 3793.5L1515.8 3794.8L1507.3 3783.9Z" stroke="#000" stroke-width="3.2" fill="#fff"/>
<path d="M1520.1 3798.3L1538.2 3796.9L1548.3 3809.4L1527.5 3810.7L1520.1 3798.3Z" stroke="#000" stroke-width="3.2" fill="#fff"/>
<path d="M1532.8 3815L1551.1 3813.3L1553.3 3822.4L1558.4 3830.9L1567.4 3830.9L1571.7 3841.4L1555.4 3844.1L1549 3836.3L1549 3824.6L1539.2 3825.6L1532.8 3815Z" stroke="#000" stroke-width="3.2" fill="#fff"/>
<path d="M1510.5 3748.8L1515.8 3744.5L1516.9 3750.9L1525.4 3755.2L1522.2 3758.4" stroke="#000" stroke-width="3.2" fill="none"/>
<path d="M1919.3 3598.3C1928.1 3599.4 1938.1 3602.9 1944.8 3609C1951.6 3615 1956.5 3623.2 1959.7 3634.5C1962.9 3645.9 1964.7 3661.1 1964 3677.1C1963.3 3693.1 1960.1 3714.3 1955.5 3730.3C1950.9 3746.3 1943.8 3760.5 1936.3 3772.9C1928.9 3785.3 1918.9 3797.4 1910.8 3804.8C1902.6 3812.3 1894.8 3814.9 1887.3 3817.6C1879.9 3820.3 1872.4 3821.1 1866.1 3820.8C1859.7 3820.4 1854 3819.2 1849 3815.5C1844.1 3811.7 1839.8 3805.5 1836.3 3798.4C1832.7 3791.3 1829.5 3784.2 1827.7 3772.9C1826 3761.5 1824.9 3744.5 1825.6 3730.3C1826.3 3716.1 1828.4 3701.2 1832 3687.7C1835.5 3674.3 1841.2 3660.4 1846.9 3649.4C1852.6 3638.4 1858.6 3629.5 1866.1 3621.7C1873.5 3613.9 1882.7 3606.5 1891.6 3602.6C1900.5 3598.7 1910.4 3597.3 1919.3 3598.3Z" stroke="#000" stroke-width="3" fill="none"/>
<path d="M1917.1 3629.2C1925 3629.5 1933.5 3631.9 1938.4 3638.8C1943.4 3645.7 1945.9 3659 1947 3670.7C1948 3682.4 1947 3696.6 1944.8 3709C1942.7 3721.4 1939.1 3734.6 1934.2 3745.2C1929.2 3755.9 1922.1 3765.6 1915 3772.9C1907.9 3780.2 1898 3785.8 1891.6 3788.9C1885.2 3791.9 1882.4 3792.6 1876.7 3791C1871 3789.4 1862.2 3785.8 1857.5 3779.3C1852.9 3772.7 1850.4 3761.2 1849 3751.6C1847.6 3742 1848 3732.4 1849 3721.8C1850.1 3711.2 1851.9 3698.7 1855.4 3687.7C1859 3676.7 1864.3 3664.3 1870.3 3655.8C1876.3 3647.3 1883.8 3641.1 1891.6 3636.6C1899.4 3632.2 1909.3 3628.8 1917.1 3629.2Z" stroke="#000" stroke-width="3" fill="none"/>
<path d="M1840.5 3808C1837 3807.3 1825.6 3807.5 1819.2 3803.8C1812.8 3800 1806.8 3794.4 1802.2 3785.7C1797.6 3777 1793.7 3764.4 1791.5 3751.6C1789.4 3738.8 1788.7 3721.4 1789.4 3709C1790.1 3696.6 1792.3 3687.7 1795.8 3677.1C1799.3 3666.4 1805.4 3654.4 1810.7 3645.2C1816 3635.9 1820.6 3629.2 1827.7 3621.7C1834.8 3614.3 1844.4 3605.9 1853.3 3600.4C1862.2 3594.9 1872.4 3589.6 1881 3588.7C1889.5 3587.9 1900.5 3594.1 1904.4 3595.1" stroke="#000" stroke-width="3" fill="none"/>
<path d="M1816 3800.6C1813.4 3797.7 1803.6 3791.7 1800.1 3783.5C1796.5 3775.4 1796 3764 1794.7 3751.6C1793.5 3739.2 1791.9 3721.4 1792.6 3709C1793.3 3696.6 1795.4 3687.7 1799 3677.1C1802.5 3666.4 1808.6 3654.4 1813.9 3645.2C1819.2 3635.9 1823.8 3629.2 1830.9 3621.7C1838 3614.3 1848 3605.6 1856.5 3600.4C1865 3595.3 1877.8 3592.5 1882 3590.9" stroke="#000" stroke-width="2" fill="none"/>
<path d="M1795.8 3781.4C1794.6 3776.4 1789.9 3763.7 1788.4 3751.6C1786.8 3739.5 1786.6 3716.1 1786.2 3709" stroke="#000" stroke-width="2.6" fill="none"/>
<path d="M1793.7 3779.3C1788.7 3776.4 1769.5 3770.4 1763.9 3762.2C1758.2 3754.1 1760.3 3742.7 1759.6 3730.3C1758.9 3717.9 1758.9 3698.4 1759.6 3687.7C1760.3 3677.1 1761.4 3671.6 1763.9 3666.4C1766.4 3661.3 1772.7 3658.5 1774.5 3656.9L1793.7 3677.1L1789.4 3687.7" stroke="#000" stroke-width="2.6" fill="none"/>
<path d="M1717 3747.3L1793.7 3779.3" stroke="#000" stroke-width="2.6" fill="none"/>
<path d="M1700 3787.8L1738.3 3755.9" stroke="#000" stroke-width="2.6" fill="none"/>
<path d="M1704.3 3609L1712.8 3741" stroke="#000" stroke-width="2.6" fill="none"/>
<path d="M1740.4 3583.4L1747.9 3681.3" stroke="#000" stroke-width="2.6" fill="none"/>
<path d="M1712.8 3713.3L1717 3747.3" stroke="#000" stroke-width="2.6" fill="none"/>
<path d="M1708.5 3713.3L1751.1 3681.3" stroke="#000" stroke-width="5" fill="none"/>
<path d="M1700 3602.6L1709.6 3610L1740.4 3583.4" stroke="#000" stroke-width="2.6" fill="none"/>
<path d="M1749 3683.5L1749 3719.7L1717 3747.3" stroke="#000" stroke-width="2.6" fill="none"/>
<path d="M1795.8 3598.3C1796.2 3601.5 1794 3612.9 1797.9 3617.5C1801.8 3622.1 1815.7 3624.6 1819.2 3626C1821 3624.9 1827.7 3624.9 1829.9 3619.6C1832 3614.3 1834.1 3600.1 1832 3594.1C1829.9 3588 1821.3 3584.5 1817.1 3583.4C1812.8 3582.4 1810 3585.2 1806.4 3587.7C1802.9 3590.2 1797.6 3596.5 1795.8 3598.3" stroke="#000" stroke-width="2.6" fill="none"/>
<path d="M1800.1 3602.6C1801.8 3601.2 1807.5 3594.1 1810.7 3594.1C1813.9 3594.1 1817.8 3597.6 1819.2 3602.6C1820.6 3607.5 1819.2 3620.3 1819.2 3623.9" stroke="#000" stroke-width="2.4" fill="none"/>
<path d="M1750 3587.7L1753.2 3585.5L1764.9 3623.9L1761.7 3630.3L1753.2 3630.3L1745.8 3640.9" stroke="#000" stroke-width="2.6" fill="none"/>
<path d="M1763.9 3572.8L1806.4 3583.4L1840.5 3560" stroke="#000" stroke-width="2.6" fill="none"/>
<path d="M1812.8 3568.5L1840.5 3560" stroke="#000" stroke-width="2.6" fill="none"/>
<path d="M1891.6 3560L1891.6 3572.8L1870.3 3587.7L1836.3 3609L1819.2 3623.9" stroke="#000" stroke-width="2.6" fill="none"/>
<path d="M1904.4 3560L1910.8 3596.2" stroke="#000" stroke-width="2.6" fill="none"/>
<path d="M1923.5 3560L1932.1 3598.3" stroke="#000" stroke-width="2.6" fill="none"/>
<path d="M1927.8 3560L1934.2 3598.3" stroke="#000" stroke-width="2" fill="none"/>
<path d="M1891.6 3568.5L1904.4 3579.2L1908.6 3596.2" stroke="#000" stroke-width="4" fill="none"/>
<path d="M1700 3572.8C1702.1 3573.8 1710.3 3576.7 1712.8 3579.2C1715.3 3581.6 1716 3584.5 1714.9 3587.7C1713.8 3590.9 1707.8 3596.5 1706.4 3598.3" stroke="#000" stroke-width="2.4" fill="none"/>
<ellipse cx="1706.4" cy="3587.7" rx="10.6" ry="6.4" transform="rotate(0 1706.4 3587.7)" stroke="#000" stroke-width="2.6" fill="none"/>
<path d="M2228.5 3103L2228.5 3220.6" stroke="#000" stroke-width="3" fill="none"/>
<path d="M2184.2 3268.5L2216.7 3232.5L2241.8 3210L2249.2 3213.8L2258.1 3213L2261.7 3219.8C2263.8 3222.2 2271.9 3230.2 2274.4 3234.5C2276.8 3238.8 2277.1 3241.8 2276.4 3245.5C2275.8 3249.2 2271.5 3254.8 2270.5 3256.7" stroke="#000" stroke-width="2.8" fill="none"/>
<path d="M2216.7 3232.5C2217.6 3233.6 2220.6 3235.9 2222 3239C2223.5 3242 2225 3248.8 2225.6 3250.8" stroke="#000" stroke-width="2.6" fill="none"/>
<path d="M2225.6 3247.8C2227.6 3249.6 2233 3256 2237.4 3258.2C2241.8 3260.4 2247.3 3261.6 2252.2 3261.1C2257.1 3260.7 2263.3 3258.4 2267 3255.2C2270.7 3252 2273.1 3244.1 2274.4 3241.9" stroke="#000" stroke-width="2.6" fill="none"/>
<path d="M2184.2 3268.5L2209.3 3318.8L2221.1 3324.7" stroke="#000" stroke-width="2.8" fill="none"/>
<path d="M2190.1 3265.6L2213.8 3312.9" stroke="#000" stroke-width="2.4" fill="none"/>
<path d="M2197.5 3259.7L2219.7 3307" stroke="#000" stroke-width="2.4" fill="none"/>
<path d="M2204.9 3253.8L2224.1 3295.2" stroke="#000" stroke-width="2.4" fill="none"/>
<path d="M2196 3261.1L2213.8 3239" stroke="#000" stroke-width="2.4" fill="none"/>
<path d="M2221.1 3304C2223.9 3303.3 2232.7 3302.1 2237.4 3299.6C2242.1 3297.1 2246.3 3291.9 2249.2 3289.2C2252.2 3286.5 2254.2 3284.3 2255.2 3283.3" stroke="#000" stroke-width="2.6" fill="none"/>
<path d="M2270.5 3256.7L2253.7 3284.8L2267 3307" stroke="#000" stroke-width="2.6" fill="none"/>
<path d="M2204.9 3289.2L2212.3 3284.8L2213.8 3290.7" stroke="#000" stroke-width="2.4" fill="none"/>
<path d="M2221.1 3324.7C2223.9 3323.7 2232.7 3321.5 2237.4 3318.8C2242.1 3316.1 2247.3 3310.2 2249.2 3308.5C2252.2 3308 2261.1 3305.7 2267 3305.5C2272.9 3305.3 2281.8 3306.7 2284.7 3307" stroke="#000" stroke-width="2.6" fill="none"/>
<path d="M2204.9 3324.7C2203.9 3327.7 2199.5 3335.6 2199 3342.5C2198.5 3349.4 2199.5 3359.7 2201.9 3366.1C2204.4 3372.5 2209.3 3377.7 2213.8 3380.9C2218.2 3384.1 2222.6 3384.1 2228.5 3385.3C2234.5 3386.6 2245.8 3387.8 2249.2 3388.3C2251.2 3387.1 2257.1 3383.1 2261.1 3380.9C2265 3378.7 2269.9 3377.4 2272.9 3375C2275.8 3372.5 2277.8 3367.6 2278.8 3366.1" stroke="#000" stroke-width="2.8" fill="none"/>
<path d="M2210.8 3327.7C2213.3 3332.1 2221.6 3345.4 2225.6 3354.3C2229.5 3363.2 2233 3376.5 2234.5 3380.9" stroke="#000" stroke-width="4" fill="none"/>
<path d="M2219.7 3324.7C2222.6 3329.6 2233.5 3344.9 2237.4 3354.3C2241.4 3363.7 2242.3 3376.5 2243.3 3380.9" stroke="#000" stroke-width="3" fill="none"/>
<path d="M2243.3 3318.8C2242.6 3321.8 2239.4 3329.6 2238.9 3336.5C2238.4 3343.4 2238.1 3353.8 2240.4 3360.2C2242.6 3366.6 2247.8 3372 2252.2 3375C2256.6 3377.9 2264.5 3377.4 2267 3377.9" stroke="#000" stroke-width="2.6" fill="none"/>
<path d="M2255.2 3320.3C2254.7 3323 2252.2 3331.4 2252.2 3336.5C2252.2 3341.7 2252.7 3347.4 2255.2 3351.3C2257.6 3355.3 2262.1 3358.2 2267 3360.2C2271.9 3362.2 2281.8 3362.7 2284.7 3363.2" stroke="#000" stroke-width="2.6" fill="none"/>
<ellipse cx="2301" cy="3327.7" rx="20.1" ry="23.1" transform="rotate(-10 2301 3327.7)" stroke="#000" stroke-width="2.8" fill="none"/>
<path d="M2278.8 3309.9C2278.1 3312.4 2274.6 3318.8 2274.4 3324.7C2274.1 3330.6 2275.1 3340.5 2277.3 3345.4C2279.5 3350.3 2286 3352.8 2287.7 3354.3" stroke="#000" stroke-width="2.4" fill="none"/>
<path d="M2284.7 3308.5C2284.1 3311.2 2281.4 3318.6 2281.2 3324.7C2280.9 3330.9 2281.2 3340.5 2283.2 3345.4C2285.3 3350.3 2291.9 3352.8 2293.6 3354.3" stroke="#000" stroke-width="2.4" fill="none"/>
<path d="M2201.9 3343.9C2199 3344.2 2189.6 3344.4 2184.2 3345.4C2178.8 3346.4 2172.4 3347.4 2169.4 3349.9C2166.4 3352.3 2166.4 3356.3 2166.4 3360.2C2166.4 3364.1 2166.9 3369.8 2169.4 3373.5C2171.9 3377.2 2175.6 3381.4 2181.2 3382.4C2186.9 3383.4 2199.7 3379.9 2203.4 3379.4" stroke="#000" stroke-width="2.8" fill="none"/>
<path d="M2184.2 3345.4C2183.7 3347.9 2180.7 3354.3 2181.2 3360.2C2181.7 3366.1 2186.2 3377.4 2187.1 3380.9" stroke="#000" stroke-width="2.4" fill="none"/>
<path d="M2191.6 3343.9C2191.3 3346.6 2189.6 3354.3 2190.1 3360.2C2190.6 3366.1 2193.8 3376.2 2194.5 3379.4" stroke="#000" stroke-width="2.4" fill="none"/>
<ellipse cx="2130.1" cy="3377.9" rx="22.8" ry="28.1" transform="rotate(-8 2130.1 3377.9)" stroke="#000" stroke-width="3" fill="none"/>
<ellipse cx="2130.1" cy="3377.4" rx="18.3" ry="23.7" transform="rotate(-8 2130.1 3377.4)" stroke="#000" stroke-width="2.4" fill="none"/>
<ellipse cx="2131" cy="3375.6" rx="11.2" ry="16.3" transform="rotate(-8 2131 3375.6)" stroke="#000" stroke-width="2.6" fill="none"/>
<path d="M2134 3407.5L2134 3524.6" stroke="#000" stroke-width="3" fill="none"/>
<ellipse cx="2368.1" cy="3308.5" rx="20.7" ry="26" transform="rotate(-5 2368.1 3308.5)" stroke="#000" stroke-width="3" fill="none"/>
<ellipse cx="2368.1" cy="3310.5" rx="10.1" ry="14.8" transform="rotate(-5 2368.1 3310.5)" stroke="#000" stroke-width="2.6" fill="none"/>
<path d="M2374 3335.1L2374 3451.9" stroke="#000" stroke-width="3" fill="none"/>
<path d="M2154.6 3438.6L2354.2 3379.4" stroke="#000" stroke-width="2.6" fill="none"/>
<path d="M2397.1 3367.6L2560 3318.8" stroke="#000" stroke-width="2.6" fill="none"/>
<path d="M2396.9 3366.8L2556.8 3319.1" stroke="#000" stroke-width="2.6" fill="none"/>
<path d="M2478.4 3228.4L2398.5 3235.5C2397.3 3236.2 2393 3236.6 2391.7 3239.8C2390.4 3243 2390.4 3250.8 2390.8 3254.6C2391.1 3258.3 2393.3 3261 2393.8 3262.2L2484.6 3256.1" stroke="#000" stroke-width="2.8" fill="none"/>
<path d="M2479.9 3222.3C2478.2 3223.5 2477.9 3224.6 2477.8 3230C2477.6 3235.3 2478.1 3248.9 2479 3254.6C2479.9 3260.2 2481.3 3262.3 2483 3263.8C2484.7 3265.2 2487.8 3266.8 2489.2 3263.2C2490.5 3259.6 2491.5 3249.1 2491.3 3242.3C2491.2 3235.4 2490.1 3225.6 2488.2 3222.3C2486.3 3218.9 2481.7 3221 2479.9 3222.3Z" stroke="#000" stroke-width="2.6" fill="none"/>
<path d="M2491.3 3226.3L2539.9 3221.3L2576.8 3215.2" stroke="#000" stroke-width="2.6" fill="none"/>
<path d="M2493.2 3255.2C2505.1 3254.3 2551.1 3249.4 2564.5 3249.9C2577.9 3250.5 2571.3 3257.2 2573.7 3258.2C2576.2 3259.3 2578.3 3256.4 2579.3 3256.1" stroke="#000" stroke-width="2.6" fill="none"/>
<path d="M2570.7 3208.4C2571.7 3210.5 2575 3215.1 2576.8 3220.7C2578.6 3226.4 2581.4 3236.1 2581.4 3242.3C2581.4 3248.4 2577.6 3255.1 2576.8 3257.6" stroke="#000" stroke-width="2.6" fill="none"/>
<path d="M2576.8 3208.4L2619.9 3203.8" stroke="#000" stroke-width="2.6" fill="none"/>
<path d="M2579.9 3214.6L2619.9 3210" stroke="#000" stroke-width="2.4" fill="none"/>
<path d="M2581.4 3253L2619.9 3249.9" stroke="#000" stroke-width="2.6" fill="none"/>
<path d="M2521.5 3200.7L2546.1 3193.1L2573.7 3196.1L2576.8 3205.4L2561.4 3215.2L2536.8 3221.3C2534.8 3219.7 2527.1 3214.9 2524.5 3211.5C2522 3208.1 2522 3202.5 2521.5 3200.7" stroke="#000" stroke-width="2.6" fill="none"/>
<path d="M2539.9 3214.6L2552.2 3202.3L2564.5 3200.7" stroke="#000" stroke-width="2.2" fill="none"/>
<path d="M2546.1 3217.7L2564.5 3208.4" stroke="#000" stroke-width="2.2" fill="none"/>
<path d="M2619.9 3193.1C2619.3 3196.1 2616.8 3204.8 2616.8 3211.5C2616.8 3218.2 2617.8 3226.4 2619.9 3233C2621.9 3239.7 2625.5 3247.4 2629.1 3251.5C2632.7 3255.6 2636.8 3257.1 2641.4 3257.6C2646 3258.1 2652.4 3257.6 2656.8 3254.6C2661.1 3251.5 2665.5 3244.8 2667.5 3239.2C2669.6 3233.5 2670.1 3226.4 2669.1 3220.7C2668 3215.1 2665 3209.5 2661.4 3205.4C2657.8 3201.3 2652.4 3198.2 2647.5 3196.1C2642.7 3194.1 2636.8 3193.6 2632.2 3193.1C2627.5 3192.5 2621.9 3193.1 2619.9 3193.1" stroke="#000" stroke-width="2.6" fill="none"/>
<path d="M2626 3208.4C2626.5 3211.5 2627 3221.8 2629.1 3226.9C2631.1 3232 2636.8 3237.1 2638.3 3239.2" stroke="#000" stroke-width="2.2" fill="none"/>
<ellipse cx="2667.5" cy="3195.5" rx="20.9" ry="29.2" transform="rotate(-12 2667.5 3195.5)" stroke="#000" stroke-width="2.8" fill="none"/>
<ellipse cx="2666.9" cy="3196.1" rx="10.5" ry="13.8" transform="rotate(-12 2666.9 3196.1)" stroke="#000" stroke-width="2.6" fill="none"/>
<ellipse cx="2667.5" cy="3195.5" rx="1.8" ry="1.8" transform="rotate(0 2667.5 3195.5)" stroke="#000" stroke-width="2.4" fill="none"/>
<path d="M2616.8 3193.1C2617.8 3191 2619.3 3184.1 2622.9 3180.8C2626.5 3177.4 2632.1 3175.5 2638.3 3173.1C2644.6 3170.6 2656.8 3167.2 2660.4 3166" stroke="#000" stroke-width="2.6" fill="none"/>
<ellipse cx="2635.2" cy="3296.1" rx="20.9" ry="29.2" transform="rotate(-12 2635.2 3296.1)" stroke="#000" stroke-width="2.8" fill="none"/>
<ellipse cx="2634.6" cy="3297" rx="10.1" ry="13.8" transform="rotate(-12 2634.6 3297)" stroke="#000" stroke-width="2.6" fill="none"/>
<ellipse cx="2635.2" cy="3296.1" rx="1.8" ry="1.8" transform="rotate(0 2635.2 3296.1)" stroke="#000" stroke-width="2.4" fill="none"/>
<path d="M2595.3 3273C2593.7 3275.1 2587.8 3279.2 2586 3285.3C2584.2 3291.5 2583 3302.7 2584.5 3309.9C2586 3317.1 2591.4 3324.3 2595.3 3328.4C2599.1 3332.5 2599.8 3334.9 2607.6 3334.5C2615.3 3334.1 2636.3 3327.3 2642 3325.9" stroke="#000" stroke-width="2.6" fill="none"/>
<path d="M2521.5 3254.6C2523.5 3257.6 2528.6 3267.1 2533.8 3273C2538.9 3278.9 2545 3286.8 2552.2 3289.9C2559.4 3293 2569.6 3292.7 2576.8 3291.5C2584 3290.2 2592.2 3283.8 2595.3 3282.2" stroke="#000" stroke-width="2.6" fill="none"/>
<path d="M2607.6 3260.7C2607.3 3262.2 2605.8 3267.4 2606 3269.9C2606.3 3272.5 2608.6 3275.1 2609.1 3276.1" stroke="#000" stroke-width="2.4" fill="none"/>
<path d="M2613.7 3257.6C2613.3 3259.7 2611 3266.6 2611.2 3269.9C2611.5 3273.3 2614.6 3276.3 2615.2 3277.6" stroke="#000" stroke-width="2.4" fill="none"/>
<path d="M2666 3194.6L2749 3171.5L2716.7 3273" stroke="#000" stroke-width="2.6" fill="none"/>
<path d="M2635.2 3294.5L2793.6 3249.9" stroke="#000" stroke-width="2.6" fill="none"/>
<path d="M2812.1 3231.1L2861.7 3216.9" stroke="#000" stroke-width="2.8" fill="none"/>
<path d="M2817 3255.2L2867.4 3241.7" stroke="#000" stroke-width="2.8" fill="none"/>
<path d="M2812.1 3231.1C2811.6 3231.9 2809.6 3233.9 2809.2 3236.1C2808.8 3238.2 2809.2 3241.6 2809.6 3243.9C2810 3246.2 2810.5 3248 2811.7 3249.9C2813 3251.8 2816.1 3254.3 2817 3255.2" stroke="#000" stroke-width="2.8" fill="none"/>
<path d="M2820.6 3232.5C2820.7 3233.8 2820.2 3237.1 2821.3 3240.3C2822.4 3243.5 2826 3249.8 2827 3251.7" stroke="#000" stroke-width="2.6" fill="none"/>
<path d="M2832.6 3228.3C2832.8 3229.6 2832.2 3232.9 2833.4 3236.1C2834.5 3239.3 2838.4 3245.5 2839.4 3247.4" stroke="#000" stroke-width="2.6" fill="none"/>
<path d="M2844 3224.7C2844.1 3226 2843.6 3229.3 2844.7 3232.5C2845.8 3235.7 2849.7 3242 2850.7 3243.9" stroke="#000" stroke-width="2.6" fill="none"/>
<path d="M2855.4 3221.9C2855.5 3223.2 2854.9 3226.5 2856.1 3229.7C2857.2 3232.9 2861.1 3239.1 2862.1 3241" stroke="#000" stroke-width="2.6" fill="none"/>
<path d="M2860 3219.7C2860.1 3221 2859.6 3224.4 2860.7 3227.5C2861.7 3230.7 2865.4 3237 2866.4 3238.9" stroke="#000" stroke-width="2.6" fill="none"/>
<ellipse cx="2886.2" cy="3223.6" rx="23.4" ry="26.3" transform="rotate(-10 2886.2 3223.6)" stroke="#000" stroke-width="3.4" fill="none"/>
<ellipse cx="2884.8" cy="3224" rx="18.5" ry="22.7" transform="rotate(-10 2884.8 3224)" stroke="#000" stroke-width="2.4" fill="none"/>
<path d="M2873.8 3207L2883.7 3206.4L2888.7 3203.6L2901.5 3203.6L2907.2 3209.8L2909.3 3220.4L2906.4 3231.1L2897.9 3238.9L2888 3237.5L2880.9 3238.2L2875.2 3229.7L2871 3219.7L2873.8 3207Z" stroke="#000" stroke-width="3.2" fill="none"/>
<path d="M2888 3213.4C2888.7 3211.3 2890.6 3209.5 2892.3 3209.1C2893.9 3208.7 2896.4 3209.5 2897.9 3211.2C2899.5 3213 2901 3216.9 2901.5 3219.7C2902 3222.6 2901.5 3226.1 2900.8 3228.3C2900.1 3230.4 2898.8 3232.3 2897.2 3232.5C2895.7 3232.7 2893.1 3231.6 2891.5 3229.7C2890 3227.8 2888.6 3223.9 2888 3221.2C2887.4 3218.4 2887.3 3215.4 2888 3213.4Z" stroke="#000" stroke-width="8" fill="none"/>
<path d="M2873.8 3221.2L2881.6 3222.6L2888 3221.2" stroke="#000" stroke-width="3" fill="none"/>
<path d="M2883.7 3207L2880.2 3219.7L2881.6 3222.6L2887.3 3236.8" stroke="#000" stroke-width="3" fill="none"/>
<path d="M2887.4 3250L2887.4 3367.7" stroke="#000" stroke-width="3" fill="none"/>
</svg>
</body></html>
